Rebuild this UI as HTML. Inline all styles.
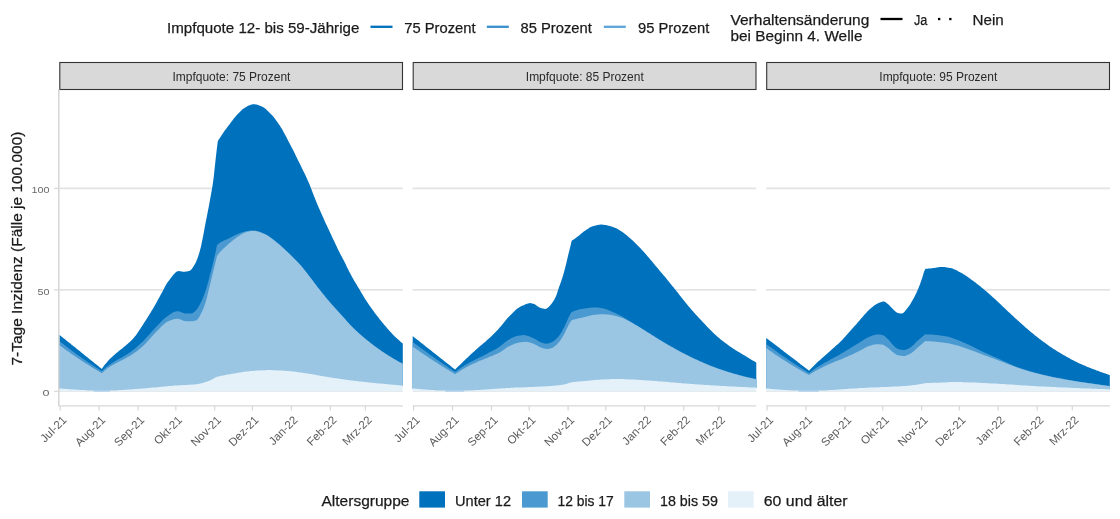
<!DOCTYPE html>
<html lang="de">
<head>
<meta charset="utf-8">
<title>7-Tage Inzidenz nach Impfquote</title>
<style>
html,body{margin:0;padding:0;background:#ffffff;}
body{width:1120px;height:519px;overflow:hidden;}
svg{display:block;}
text{font-family:"Liberation Sans",sans-serif;fill:#1a1a1a;}
.leg text{font-size:15.5px;stroke:#1a1a1a;stroke-width:0.25px;}
.strip{font-size:12px;fill:#2a2a2a;}
.xt{font-size:11.5px;fill:#5a5a5a;}
.yt{font-size:9.8px;fill:#6a6a6a;}
.ytitle{font-size:15.5px;fill:#1a1a1a;stroke:#1a1a1a;stroke-width:0.25px;}
</style>
</head>
<body>
<svg width="1120" height="519" viewBox="0 0 1120 519">
<rect width="1120" height="519" fill="#ffffff"/>
<g class="leg">
<text x="167" y="32.5" textLength="192.3" lengthAdjust="spacingAndGlyphs">Impfquote 12- bis 59-Jährige</text>
<line x1="370.5" x2="392.5" y1="26.8" y2="26.8" stroke="#0071bc" stroke-width="2.3"/>
<text x="404.3" y="32.5" textLength="71.3" lengthAdjust="spacingAndGlyphs">75 Prozent</text>
<line x1="486.8" x2="508.8" y1="26.8" y2="26.8" stroke="#3a8fcc" stroke-width="2.3"/>
<text x="520.5" y="32.5" textLength="71.3" lengthAdjust="spacingAndGlyphs">85 Prozent</text>
<line x1="603.8" x2="625.8" y1="26.8" y2="26.8" stroke="#5ba5d8" stroke-width="2.3"/>
<text x="638.0" y="32.5" textLength="71.3" lengthAdjust="spacingAndGlyphs">95 Prozent</text>
<text x="730.5" y="24.5" textLength="138.8" lengthAdjust="spacingAndGlyphs">Verhaltensänderung</text>
<text x="730.5" y="40.7" textLength="132" lengthAdjust="spacingAndGlyphs">bei Beginn 4. Welle</text>
<line x1="880.5" x2="902.5" y1="19" y2="19" stroke="#000" stroke-width="2.3"/>
<text x="913.9" y="25" textLength="13.4" lengthAdjust="spacingAndGlyphs">Ja</text>
<rect x="938.0" y="17.9" width="2.3" height="2.3" fill="#000"/>
<rect x="949.2" y="17.9" width="2.3" height="2.3" fill="#000"/>
<text x="972.5" y="25" textLength="31.3" lengthAdjust="spacingAndGlyphs">Nein</text>
</g>
<line x1="59.3" x2="402.8" y1="188.4" y2="188.4" stroke="#e3e3e3" stroke-width="1.6"/>
<line x1="59.3" x2="402.8" y1="289.9" y2="289.9" stroke="#e3e3e3" stroke-width="1.6"/>
<line x1="59.3" x2="402.8" y1="391.3" y2="391.3" stroke="#e3e3e3" stroke-width="1.6"/>
<path d="M59.3,334.8L60.3,335.6L61.3,336.4L62.3,337.2L63.3,338.0L64.3,338.8L65.3,339.6L66.3,340.4L67.3,341.2L68.3,342.0L69.3,342.8L70.3,343.6L71.3,344.4L72.3,345.2L73.3,346.0L74.3,346.8L75.3,347.6L76.3,348.4L77.3,349.2L78.3,350.0L79.3,350.8L80.3,351.6L81.3,352.5L82.3,353.3L83.3,354.1L84.3,354.9L85.3,355.7L86.3,356.5L87.3,357.3L88.3,358.1L89.3,358.9L90.3,359.7L91.3,360.5L92.3,361.3L93.3,362.1L94.3,362.9L95.3,363.7L96.3,364.5L97.3,365.3L98.3,366.1L99.3,366.9L100.3,367.7L101.3,368.5L101.8,368.9L101.8,368.9L102.8,367.5L103.8,366.1L104.8,364.8L105.8,363.6L106.8,362.4L107.8,361.2L108.8,360.1L109.8,359.1L110.8,358.1L111.8,357.2L112.8,356.2L113.8,355.3L114.8,354.5L115.8,353.6L116.8,352.7L117.8,351.9L118.8,351.1L119.8,350.3L120.8,349.5L121.8,348.7L122.8,347.9L123.8,347.1L124.8,346.3L125.8,345.5L126.8,344.6L127.8,343.7L128.8,342.8L129.8,341.9L130.8,341.0L131.8,340.0L132.8,338.9L133.8,337.8L134.8,336.6L135.8,335.4L136.8,334.0L137.8,332.6L138.8,331.1L139.8,329.6L140.8,328.0L141.8,326.4L142.8,324.9L143.8,323.3L144.8,321.8L145.8,320.2L146.8,318.7L147.8,317.1L148.8,315.5L149.8,313.8L150.8,312.2L151.8,310.5L152.8,308.9L153.8,307.2L154.8,305.5L155.8,303.7L156.8,301.9L157.8,300.1L158.8,298.3L159.8,296.4L160.8,294.6L161.8,292.8L162.8,290.9L163.8,288.9L164.8,287.0L165.8,285.2L166.8,283.6L167.8,282.1L168.8,280.8L169.8,279.4L170.8,278.0L171.8,276.7L172.8,275.4L173.8,274.2L174.8,273.2L175.8,272.3L176.8,271.6L177.8,271.2L178.8,271.1L179.8,271.2L180.8,271.3L181.8,271.5L182.8,271.7L183.8,271.7L184.8,271.7L185.8,271.6L186.8,271.5L187.8,271.3L188.8,271.1L189.8,270.8L190.8,270.1L191.8,269.0L192.8,267.6L193.8,266.0L194.8,264.3L195.8,262.4L196.8,260.1L197.8,257.4L198.8,254.4L199.8,251.1L200.8,247.2L201.8,242.6L202.8,237.8L203.8,232.6L204.8,227.1L205.8,221.8L206.8,216.7L207.8,211.6L208.8,206.4L209.8,201.1L210.8,195.6L211.8,189.9L212.8,183.9L213.8,176.6L214.8,167.1L215.8,157.7L216.8,149.3L217.8,141.2L217.8,141.2L217.8,141.2L218.8,139.6L219.8,138.0L220.8,136.5L221.8,134.9L222.8,133.5L223.8,132.0L224.8,130.6L225.8,129.2L226.8,127.9L227.8,126.5L228.8,125.2L229.8,123.9L230.8,122.6L231.8,121.3L232.8,119.9L233.8,118.6L234.8,117.4L235.8,116.2L236.8,115.0L237.8,114.0L238.8,113.0L239.8,111.9L240.8,110.9L241.8,110.0L242.8,109.1L243.8,108.4L244.8,107.7L245.8,107.2L246.8,106.6L247.8,106.1L248.8,105.6L249.8,105.2L250.8,104.8L251.8,104.5L252.8,104.3L253.8,104.2L254.8,104.2L255.8,104.4L256.8,104.6L257.8,104.9L258.8,105.3L259.8,105.7L260.8,106.1L261.8,106.6L262.8,107.0L263.8,107.6L264.8,108.3L265.8,109.1L266.8,110.0L267.8,110.9L268.8,111.9L269.8,112.9L270.8,113.9L271.8,115.0L272.8,116.1L273.8,117.3L274.8,118.6L275.8,119.9L276.8,121.3L277.8,122.7L278.8,124.2L279.8,125.6L280.8,127.2L281.8,128.8L282.8,130.6L283.8,132.4L284.8,134.2L285.8,136.1L286.8,138.0L287.8,139.9L288.8,141.9L289.8,143.8L290.8,145.7L291.8,147.7L292.8,149.6L293.8,151.6L294.8,153.6L295.8,155.7L296.8,157.7L297.8,159.7L298.8,161.8L299.8,163.8L300.8,165.8L301.8,167.9L302.8,169.9L303.8,171.9L304.8,174.0L305.8,176.1L306.8,178.2L307.8,180.4L308.8,182.7L309.8,185.1L310.8,187.7L311.8,190.3L312.8,192.9L313.8,195.5L314.8,198.0L315.8,200.5L316.8,203.0L317.8,205.4L318.8,207.7L319.8,210.0L320.8,212.3L321.8,214.6L322.8,216.8L323.8,219.0L324.8,221.2L325.8,223.4L326.8,225.5L327.8,227.7L328.8,229.8L329.8,232.0L330.8,234.1L331.8,236.3L332.8,238.4L333.8,240.5L334.8,242.6L335.8,244.7L336.8,246.8L337.8,248.9L338.8,250.9L339.8,252.9L340.8,254.9L341.8,256.8L342.8,258.7L343.8,260.6L344.8,262.6L345.8,264.6L346.8,266.7L347.8,268.7L348.8,270.7L349.8,272.7L350.8,274.6L351.8,276.4L352.8,278.2L353.8,280.0L354.8,281.7L355.8,283.3L356.8,285.0L357.8,286.7L358.8,288.3L359.8,290.0L360.8,291.7L361.8,293.4L362.8,295.1L363.8,296.7L364.8,298.4L365.8,299.9L366.8,301.4L367.8,303.0L368.8,304.4L369.8,305.9L370.8,307.3L371.8,308.7L372.8,310.1L373.8,311.5L374.8,312.9L375.8,314.2L376.8,315.5L377.8,316.8L378.8,318.1L379.8,319.4L380.8,320.6L381.8,321.9L382.8,323.1L383.8,324.3L384.8,325.5L385.8,326.6L386.8,327.8L387.8,328.9L388.8,330.1L389.8,331.2L390.8,332.3L391.8,333.3L392.8,334.4L393.8,335.4L394.8,336.4L395.8,337.4L396.8,338.3L397.8,339.2L398.8,340.1L399.8,341.0L400.8,341.9L401.8,342.7L402.8,343.5L402.8,386.1L402.3,386.1L401.3,386.0L400.3,385.9L399.3,385.8L398.3,385.7L397.3,385.6L396.3,385.5L395.3,385.4L394.3,385.3L393.3,385.3L392.3,385.2L391.3,385.1L390.3,385.0L389.3,384.9L388.3,384.8L387.3,384.7L386.3,384.6L385.3,384.5L384.3,384.4L383.3,384.3L382.3,384.2L381.3,384.1L380.3,384.0L379.3,384.0L378.3,383.9L377.3,383.8L376.3,383.7L375.3,383.6L374.3,383.5L373.3,383.4L372.3,383.3L371.3,383.2L370.3,383.1L369.3,383.0L368.3,382.9L367.3,382.7L366.3,382.6L365.3,382.5L364.3,382.4L363.3,382.3L362.3,382.2L361.3,382.1L360.3,382.0L359.3,381.9L358.3,381.8L357.3,381.6L356.3,381.5L355.3,381.4L354.3,381.3L353.3,381.2L352.3,381.0L351.3,380.9L350.3,380.8L349.3,380.7L348.3,380.5L347.3,380.4L346.3,380.3L345.3,380.1L344.3,380.0L343.3,379.8L342.3,379.7L341.3,379.6L340.3,379.4L339.3,379.3L338.3,379.1L337.3,379.0L336.3,378.8L335.3,378.7L334.3,378.5L333.3,378.4L332.3,378.2L331.3,378.0L330.3,377.9L329.3,377.7L328.3,377.6L327.3,377.4L326.3,377.2L325.3,377.1L324.3,376.9L323.3,376.7L322.3,376.6L321.3,376.4L320.3,376.2L319.3,376.0L318.3,375.8L317.3,375.7L316.3,375.5L315.3,375.3L314.3,375.1L313.3,375.0L312.3,374.8L311.3,374.6L310.3,374.5L309.3,374.3L308.3,374.1L307.3,374.0L306.3,373.8L305.3,373.7L304.3,373.5L303.3,373.4L302.3,373.2L301.3,373.1L300.3,372.9L299.3,372.8L298.3,372.7L297.3,372.5L296.3,372.4L295.3,372.3L294.3,372.1L293.3,372.0L292.3,371.9L291.3,371.8L290.3,371.7L289.3,371.6L288.3,371.6L287.3,371.5L286.3,371.4L285.3,371.3L284.3,371.3L283.3,371.2L282.3,371.1L281.3,371.1L280.3,371.0L279.3,370.9L278.3,370.9L277.3,370.8L276.3,370.8L275.3,370.7L274.3,370.7L273.3,370.7L272.3,370.6L271.3,370.6L270.3,370.6L269.3,370.6L268.3,370.6L267.3,370.6L266.3,370.6L265.3,370.7L264.3,370.7L263.3,370.7L262.3,370.8L261.3,370.8L260.3,370.9L259.3,371.0L258.3,371.0L257.3,371.1L256.3,371.1L255.3,371.2L254.3,371.3L253.3,371.4L252.3,371.4L251.3,371.5L250.3,371.6L249.3,371.7L248.3,371.8L247.3,371.9L246.3,372.0L245.3,372.1L244.3,372.3L243.3,372.4L242.3,372.6L241.3,372.7L240.3,372.9L239.3,373.0L238.3,373.2L237.3,373.4L236.3,373.6L235.3,373.7L234.3,373.9L233.3,374.1L232.3,374.3L231.3,374.4L230.3,374.6L229.3,374.8L228.3,375.0L227.3,375.1L226.3,375.3L225.3,375.5L224.3,375.7L223.3,375.9L222.3,376.1L221.3,376.3L220.3,376.5L219.3,376.8L218.3,377.0L217.3,377.3L216.3,377.6L215.3,378.1L214.3,378.6L213.3,379.2L212.3,379.7L211.3,380.3L210.3,380.8L209.3,381.2L208.3,381.6L207.3,381.9L206.3,382.3L205.3,382.6L204.3,383.0L203.3,383.3L202.3,383.6L201.3,383.8L200.3,384.1L199.3,384.3L198.3,384.4L197.3,384.5L196.3,384.7L195.3,384.8L194.3,384.9L193.3,384.9L192.3,385.0L191.3,385.1L190.3,385.2L189.3,385.2L188.3,385.3L187.3,385.4L186.3,385.4L185.3,385.5L184.3,385.5L183.3,385.6L182.3,385.6L181.3,385.7L180.3,385.7L179.3,385.8L178.3,385.8L177.3,385.9L176.3,386.0L175.3,386.0L174.3,386.1L173.3,386.2L172.3,386.3L171.3,386.4L170.3,386.5L169.3,386.5L168.3,386.6L167.3,386.7L166.3,386.8L165.3,386.9L164.3,387.0L163.3,387.1L162.3,387.2L161.3,387.3L160.3,387.4L159.3,387.5L158.3,387.6L157.3,387.7L156.3,387.8L155.3,387.9L154.3,388.0L153.3,388.0L152.3,388.1L151.3,388.2L150.3,388.3L149.3,388.4L148.3,388.5L147.3,388.6L146.3,388.7L145.3,388.8L144.3,388.9L143.3,389.0L142.3,389.0L141.3,389.1L140.3,389.2L139.3,389.3L138.3,389.3L137.3,389.4L136.3,389.5L135.3,389.5L134.3,389.6L133.3,389.7L132.3,389.7L131.3,389.8L130.3,389.9L129.3,390.0L128.3,390.0L127.3,390.1L126.3,390.2L125.3,390.2L124.3,390.3L123.3,390.4L122.3,390.4L121.3,390.5L120.3,390.6L119.3,390.6L118.3,390.7L117.3,390.8L116.3,390.8L115.3,390.9L114.3,390.9L113.3,391.0L112.3,391.0L111.3,391.1L110.3,391.1L109.3,391.2L108.3,391.2L107.3,391.2L106.3,391.2L105.3,391.3L104.3,391.3L103.3,391.3L102.3,391.3L101.3,391.3L100.3,391.3L99.3,391.3L98.3,391.3L97.3,391.2L96.3,391.2L95.3,391.2L94.3,391.2L93.3,391.1L92.3,391.1L91.3,391.0L90.3,391.0L89.3,390.9L88.3,390.9L87.3,390.8L86.3,390.8L85.3,390.7L84.3,390.6L83.3,390.6L82.3,390.5L81.3,390.5L80.3,390.4L79.3,390.4L78.3,390.3L77.3,390.2L76.3,390.2L75.3,390.1L74.3,390.1L73.3,390.0L72.3,389.9L71.3,389.9L70.3,389.8L69.3,389.7L68.3,389.6L67.3,389.6L66.3,389.5L65.3,389.4L64.3,389.3L63.3,389.2L62.3,389.2L61.3,389.1L60.3,389.0L59.3,388.9Z" fill="#0071bc"/>
<path d="M59.3,340.9L60.3,341.7L61.3,342.5L62.3,343.3L63.3,344.1L64.3,344.9L65.3,345.6L66.3,346.4L67.3,347.2L68.3,348.0L69.3,348.7L70.3,349.5L71.3,350.2L72.3,351.0L73.3,351.7L74.3,352.5L75.3,353.2L76.3,353.9L77.3,354.7L78.3,355.4L79.3,356.1L80.3,356.8L81.3,357.5L82.3,358.2L83.3,358.9L84.3,359.6L85.3,360.3L86.3,361.0L87.3,361.7L88.3,362.4L89.3,363.1L90.3,363.7L91.3,364.4L92.3,365.1L93.3,365.7L94.3,366.4L95.3,367.0L96.3,367.7L97.3,368.3L98.3,369.0L99.3,369.6L100.3,370.3L101.3,370.9L101.8,371.2L101.8,371.2L102.8,370.2L103.8,369.3L104.8,368.4L105.8,367.6L106.8,366.7L107.8,366.0L108.8,365.2L109.8,364.5L110.8,363.8L111.8,363.2L112.8,362.6L113.8,361.9L114.8,361.3L115.8,360.7L116.8,360.1L117.8,359.6L118.8,359.0L119.8,358.5L120.8,358.0L121.8,357.4L122.8,356.9L123.8,356.3L124.8,355.8L125.8,355.1L126.8,354.5L127.8,353.8L128.8,353.2L129.8,352.5L130.8,351.7L131.8,351.0L132.8,350.2L133.8,349.5L134.8,348.7L135.8,347.8L136.8,347.0L137.8,346.1L138.8,345.2L139.8,344.3L140.8,343.3L141.8,342.4L142.8,341.4L143.8,340.4L144.8,339.4L145.8,338.3L146.8,337.2L147.8,336.1L148.8,335.0L149.8,333.9L150.8,332.7L151.8,331.6L152.8,330.5L153.8,329.4L154.8,328.3L155.8,327.2L156.8,326.2L157.8,325.2L158.8,324.2L159.8,323.1L160.8,322.1L161.8,321.1L162.8,320.1L163.8,319.1L164.8,318.2L165.8,317.4L166.8,316.6L167.8,315.9L168.8,315.3L169.8,314.6L170.8,313.9L171.8,313.2L172.8,312.6L173.8,312.1L174.8,311.7L175.8,311.4L176.8,311.2L177.8,311.2L178.8,311.4L179.8,311.6L180.8,312.0L181.8,312.4L182.8,312.7L183.8,313.1L184.8,313.4L185.8,313.6L186.8,313.6L187.8,313.6L188.8,313.6L189.8,313.6L190.8,313.6L191.8,313.5L192.8,313.0L193.8,312.3L194.8,311.5L195.8,310.6L196.8,309.5L197.8,308.0L198.8,306.3L199.8,304.4L200.8,302.5L201.8,300.4L202.8,298.2L203.8,295.7L204.8,293.0L205.8,290.1L206.8,286.8L207.8,283.2L208.8,279.4L209.8,275.5L210.8,271.7L211.8,267.9L212.8,263.9L213.8,259.8L214.8,255.4L215.8,250.9L216.8,246.2L217.0,245.2L217.0,245.2L218.0,244.2L219.0,243.3L220.0,242.7L221.0,242.1L222.0,241.5L223.0,241.0L224.0,240.6L225.0,240.1L226.0,239.7L227.0,239.2L228.0,238.7L229.0,238.2L230.0,237.7L231.0,237.2L232.0,236.7L233.0,236.2L234.0,235.7L235.0,235.2L236.0,234.7L237.0,234.3L238.0,233.9L239.0,233.5L240.0,233.1L241.0,232.7L242.0,232.3L243.0,232.0L244.0,231.7L245.0,231.4L246.0,231.2L247.0,231.0L248.0,230.9L249.0,230.7L250.0,230.6L251.0,230.5L252.0,230.4L253.0,230.4L254.0,230.4L255.0,230.5L256.0,230.7L257.0,230.9L258.0,231.2L259.0,231.5L260.0,231.8L261.0,232.2L262.0,232.6L263.0,233.1L264.0,233.5L265.0,233.9L266.0,234.4L267.0,235.0L268.0,235.6L269.0,236.2L270.0,236.9L271.0,237.7L272.0,238.5L273.0,239.2L274.0,240.0L275.0,240.8L276.0,241.6L277.0,242.4L278.0,243.2L279.0,244.1L280.0,244.9L281.0,245.8L282.0,246.7L283.0,247.7L284.0,248.6L285.0,249.5L286.0,250.5L287.0,251.4L288.0,252.4L289.0,253.3L290.0,254.3L291.0,255.2L292.0,256.2L293.0,257.2L294.0,258.2L295.0,259.2L296.0,260.2L297.0,261.2L298.0,262.3L299.0,263.4L300.0,264.5L301.0,265.6L302.0,266.8L303.0,268.0L304.0,269.3L305.0,270.6L306.0,271.8L307.0,273.1L308.0,274.4L309.0,275.7L310.0,277.0L311.0,278.3L312.0,279.6L313.0,280.9L314.0,282.2L315.0,283.5L316.0,284.9L317.0,286.2L318.0,287.5L319.0,288.8L320.0,290.1L321.0,291.3L322.0,292.6L323.0,293.8L324.0,295.1L325.0,296.3L326.0,297.5L327.0,298.7L328.0,299.9L329.0,301.0L330.0,302.2L331.0,303.4L332.0,304.5L333.0,305.7L334.0,306.8L335.0,307.9L336.0,309.0L337.0,310.1L338.0,311.2L339.0,312.3L340.0,313.4L341.0,314.5L342.0,315.6L343.0,316.7L344.0,317.8L345.0,318.9L346.0,320.0L347.0,321.2L348.0,322.3L349.0,323.4L350.0,324.5L351.0,325.5L352.0,326.6L353.0,327.6L354.0,328.6L355.0,329.5L356.0,330.5L357.0,331.4L358.0,332.3L359.0,333.2L360.0,334.1L361.0,335.0L362.0,335.8L363.0,336.7L364.0,337.5L365.0,338.4L366.0,339.2L367.0,340.0L368.0,340.8L369.0,341.6L370.0,342.4L371.0,343.2L372.0,343.9L373.0,344.7L374.0,345.5L375.0,346.2L376.0,346.9L377.0,347.7L378.0,348.4L379.0,349.1L380.0,349.8L381.0,350.5L382.0,351.2L383.0,351.9L384.0,352.6L385.0,353.2L386.0,353.9L387.0,354.5L388.0,355.1L389.0,355.7L390.0,356.4L391.0,357.0L392.0,357.6L393.0,358.2L394.0,358.7L395.0,359.3L396.0,359.9L397.0,360.4L398.0,361.0L399.0,361.5L400.0,362.1L401.0,362.6L402.0,363.1L402.8,363.5L402.8,386.1L402.3,386.1L401.3,386.0L400.3,385.9L399.3,385.8L398.3,385.7L397.3,385.6L396.3,385.5L395.3,385.4L394.3,385.3L393.3,385.3L392.3,385.2L391.3,385.1L390.3,385.0L389.3,384.9L388.3,384.8L387.3,384.7L386.3,384.6L385.3,384.5L384.3,384.4L383.3,384.3L382.3,384.2L381.3,384.1L380.3,384.0L379.3,384.0L378.3,383.9L377.3,383.8L376.3,383.7L375.3,383.6L374.3,383.5L373.3,383.4L372.3,383.3L371.3,383.2L370.3,383.1L369.3,383.0L368.3,382.9L367.3,382.7L366.3,382.6L365.3,382.5L364.3,382.4L363.3,382.3L362.3,382.2L361.3,382.1L360.3,382.0L359.3,381.9L358.3,381.8L357.3,381.6L356.3,381.5L355.3,381.4L354.3,381.3L353.3,381.2L352.3,381.0L351.3,380.9L350.3,380.8L349.3,380.7L348.3,380.5L347.3,380.4L346.3,380.3L345.3,380.1L344.3,380.0L343.3,379.8L342.3,379.7L341.3,379.6L340.3,379.4L339.3,379.3L338.3,379.1L337.3,379.0L336.3,378.8L335.3,378.7L334.3,378.5L333.3,378.4L332.3,378.2L331.3,378.0L330.3,377.9L329.3,377.7L328.3,377.6L327.3,377.4L326.3,377.2L325.3,377.1L324.3,376.9L323.3,376.7L322.3,376.6L321.3,376.4L320.3,376.2L319.3,376.0L318.3,375.8L317.3,375.7L316.3,375.5L315.3,375.3L314.3,375.1L313.3,375.0L312.3,374.8L311.3,374.6L310.3,374.5L309.3,374.3L308.3,374.1L307.3,374.0L306.3,373.8L305.3,373.7L304.3,373.5L303.3,373.4L302.3,373.2L301.3,373.1L300.3,372.9L299.3,372.8L298.3,372.7L297.3,372.5L296.3,372.4L295.3,372.3L294.3,372.1L293.3,372.0L292.3,371.9L291.3,371.8L290.3,371.7L289.3,371.6L288.3,371.6L287.3,371.5L286.3,371.4L285.3,371.3L284.3,371.3L283.3,371.2L282.3,371.1L281.3,371.1L280.3,371.0L279.3,370.9L278.3,370.9L277.3,370.8L276.3,370.8L275.3,370.7L274.3,370.7L273.3,370.7L272.3,370.6L271.3,370.6L270.3,370.6L269.3,370.6L268.3,370.6L267.3,370.6L266.3,370.6L265.3,370.7L264.3,370.7L263.3,370.7L262.3,370.8L261.3,370.8L260.3,370.9L259.3,371.0L258.3,371.0L257.3,371.1L256.3,371.1L255.3,371.2L254.3,371.3L253.3,371.4L252.3,371.4L251.3,371.5L250.3,371.6L249.3,371.7L248.3,371.8L247.3,371.9L246.3,372.0L245.3,372.1L244.3,372.3L243.3,372.4L242.3,372.6L241.3,372.7L240.3,372.9L239.3,373.0L238.3,373.2L237.3,373.4L236.3,373.6L235.3,373.7L234.3,373.9L233.3,374.1L232.3,374.3L231.3,374.4L230.3,374.6L229.3,374.8L228.3,375.0L227.3,375.1L226.3,375.3L225.3,375.5L224.3,375.7L223.3,375.9L222.3,376.1L221.3,376.3L220.3,376.5L219.3,376.8L218.3,377.0L217.3,377.3L216.3,377.6L215.3,378.1L214.3,378.6L213.3,379.2L212.3,379.7L211.3,380.3L210.3,380.8L209.3,381.2L208.3,381.6L207.3,381.9L206.3,382.3L205.3,382.6L204.3,383.0L203.3,383.3L202.3,383.6L201.3,383.8L200.3,384.1L199.3,384.3L198.3,384.4L197.3,384.5L196.3,384.7L195.3,384.8L194.3,384.9L193.3,384.9L192.3,385.0L191.3,385.1L190.3,385.2L189.3,385.2L188.3,385.3L187.3,385.4L186.3,385.4L185.3,385.5L184.3,385.5L183.3,385.6L182.3,385.6L181.3,385.7L180.3,385.7L179.3,385.8L178.3,385.8L177.3,385.9L176.3,386.0L175.3,386.0L174.3,386.1L173.3,386.2L172.3,386.3L171.3,386.4L170.3,386.5L169.3,386.5L168.3,386.6L167.3,386.7L166.3,386.8L165.3,386.9L164.3,387.0L163.3,387.1L162.3,387.2L161.3,387.3L160.3,387.4L159.3,387.5L158.3,387.6L157.3,387.7L156.3,387.8L155.3,387.9L154.3,388.0L153.3,388.0L152.3,388.1L151.3,388.2L150.3,388.3L149.3,388.4L148.3,388.5L147.3,388.6L146.3,388.7L145.3,388.8L144.3,388.9L143.3,389.0L142.3,389.0L141.3,389.1L140.3,389.2L139.3,389.3L138.3,389.3L137.3,389.4L136.3,389.5L135.3,389.5L134.3,389.6L133.3,389.7L132.3,389.7L131.3,389.8L130.3,389.9L129.3,390.0L128.3,390.0L127.3,390.1L126.3,390.2L125.3,390.2L124.3,390.3L123.3,390.4L122.3,390.4L121.3,390.5L120.3,390.6L119.3,390.6L118.3,390.7L117.3,390.8L116.3,390.8L115.3,390.9L114.3,390.9L113.3,391.0L112.3,391.0L111.3,391.1L110.3,391.1L109.3,391.2L108.3,391.2L107.3,391.2L106.3,391.2L105.3,391.3L104.3,391.3L103.3,391.3L102.3,391.3L101.3,391.3L100.3,391.3L99.3,391.3L98.3,391.3L97.3,391.2L96.3,391.2L95.3,391.2L94.3,391.2L93.3,391.1L92.3,391.1L91.3,391.0L90.3,391.0L89.3,390.9L88.3,390.9L87.3,390.8L86.3,390.8L85.3,390.7L84.3,390.6L83.3,390.6L82.3,390.5L81.3,390.5L80.3,390.4L79.3,390.4L78.3,390.3L77.3,390.2L76.3,390.2L75.3,390.1L74.3,390.1L73.3,390.0L72.3,389.9L71.3,389.9L70.3,389.8L69.3,389.7L68.3,389.6L67.3,389.6L66.3,389.5L65.3,389.4L64.3,389.3L63.3,389.2L62.3,389.2L61.3,389.1L60.3,389.0L59.3,388.9Z" fill="#4a9ad1"/>
<path d="M59.3,345.1L60.3,345.8L61.3,346.6L62.3,347.3L63.3,348.0L64.3,348.7L65.3,349.5L66.3,350.2L67.3,350.9L68.3,351.6L69.3,352.3L70.3,353.0L71.3,353.7L72.3,354.4L73.3,355.1L74.3,355.8L75.3,356.5L76.3,357.1L77.3,357.8L78.3,358.5L79.3,359.1L80.3,359.8L81.3,360.5L82.3,361.1L83.3,361.8L84.3,362.4L85.3,363.1L86.3,363.7L87.3,364.3L88.3,365.0L89.3,365.6L90.3,366.2L91.3,366.9L92.3,367.5L93.3,368.1L94.3,368.7L95.3,369.3L96.3,369.9L97.3,370.5L98.3,371.1L99.3,371.7L100.3,372.3L101.3,372.9L101.8,373.2L101.8,373.2L102.8,372.3L103.8,371.4L104.8,370.5L105.8,369.7L106.8,368.9L107.8,368.1L108.8,367.4L109.8,366.8L110.8,366.2L111.8,365.6L112.8,365.0L113.8,364.4L114.8,363.8L115.8,363.3L116.8,362.7L117.8,362.2L118.8,361.7L119.8,361.2L120.8,360.7L121.8,360.2L122.8,359.7L123.8,359.2L124.8,358.7L125.8,358.2L126.8,357.6L127.8,357.1L128.8,356.5L129.8,355.9L130.8,355.3L131.8,354.7L132.8,354.0L133.8,353.3L134.8,352.6L135.8,351.9L136.8,351.2L137.8,350.4L138.8,349.6L139.8,348.8L140.8,348.0L141.8,347.1L142.8,346.2L143.8,345.3L144.8,344.3L145.8,343.2L146.8,342.2L147.8,341.1L148.8,340.0L149.8,338.8L150.8,337.7L151.8,336.5L152.8,335.4L153.8,334.3L154.8,333.2L155.8,332.2L156.8,331.2L157.8,330.2L158.8,329.2L159.8,328.2L160.8,327.1L161.8,326.1L162.8,325.2L163.8,324.3L164.8,323.4L165.8,322.7L166.8,322.1L167.8,321.6L168.8,321.1L169.8,320.7L170.8,320.3L171.8,319.9L172.8,319.6L173.8,319.3L174.8,319.0L175.8,318.9L176.8,318.8L177.8,318.8L178.8,319.0L179.8,319.3L180.8,319.6L181.8,320.0L182.8,320.4L183.8,320.8L184.8,321.1L185.8,321.2L186.8,321.3L187.8,321.3L188.8,321.3L189.8,321.3L190.8,321.3L191.8,321.3L192.8,321.3L193.8,321.1L194.8,320.8L195.8,320.4L196.8,319.9L197.8,319.1L198.8,317.7L199.8,316.0L200.8,314.1L201.8,312.1L202.8,310.0L203.8,307.5L204.8,304.7L205.8,301.6L206.8,297.9L207.8,293.7L208.8,289.5L209.8,285.4L210.8,281.4L211.8,277.3L212.8,273.2L213.8,269.1L214.8,265.0L215.8,260.9L216.8,256.8L217.0,256.0L217.0,256.0L218.0,254.5L219.0,253.2L220.0,252.0L221.0,251.0L222.0,250.0L223.0,249.1L224.0,248.1L225.0,247.2L226.0,246.3L227.0,245.4L228.0,244.5L229.0,243.6L230.0,242.8L231.0,241.9L232.0,241.1L233.0,240.3L234.0,239.5L235.0,238.7L236.0,238.0L237.0,237.2L238.0,236.5L239.0,235.9L240.0,235.3L241.0,234.7L242.0,234.1L243.0,233.6L244.0,233.1L245.0,232.6L246.0,232.2L247.0,231.8L248.0,231.6L249.0,231.4L250.0,231.2L251.0,231.1L252.0,231.0L253.0,230.9L254.0,230.9L255.0,231.0L256.0,231.1L257.0,231.4L258.0,231.6L259.0,231.9L260.0,232.3L261.0,232.7L262.0,233.1L263.0,233.5L264.0,233.9L265.0,234.3L266.0,234.8L267.0,235.3L268.0,235.9L269.0,236.6L270.0,237.3L271.0,238.0L272.0,238.8L273.0,239.6L274.0,240.3L275.0,241.1L276.0,241.9L277.0,242.7L278.0,243.5L279.0,244.3L280.0,245.2L281.0,246.1L282.0,247.0L283.0,247.9L284.0,248.8L285.0,249.8L286.0,250.7L287.0,251.6L288.0,252.6L289.0,253.5L290.0,254.5L291.0,255.4L292.0,256.4L293.0,257.4L294.0,258.4L295.0,259.4L296.0,260.4L297.0,261.4L298.0,262.5L299.0,263.6L300.0,264.7L301.0,265.8L302.0,267.0L303.0,268.2L304.0,269.5L305.0,270.8L306.0,272.0L307.0,273.3L308.0,274.6L309.0,275.9L310.0,277.2L311.0,278.5L312.0,279.8L313.0,281.1L314.0,282.4L315.0,283.7L316.0,285.1L317.0,286.4L318.0,287.7L319.0,289.0L320.0,290.3L321.0,291.5L322.0,292.8L323.0,294.0L324.0,295.3L325.0,296.5L326.0,297.7L327.0,298.9L328.0,300.1L329.0,301.2L330.0,302.4L331.0,303.6L332.0,304.7L333.0,305.9L334.0,307.0L335.0,308.1L336.0,309.2L337.0,310.3L338.0,311.4L339.0,312.5L340.0,313.6L341.0,314.7L342.0,315.8L343.0,316.9L344.0,318.0L345.0,319.1L346.0,320.2L347.0,321.4L348.0,322.5L349.0,323.6L350.0,324.7L351.0,325.7L352.0,326.8L353.0,327.8L354.0,328.8L355.0,329.7L356.0,330.7L357.0,331.6L358.0,332.5L359.0,333.4L360.0,334.3L361.0,335.2L362.0,336.0L363.0,336.9L364.0,337.7L365.0,338.6L366.0,339.4L367.0,340.2L368.0,341.0L369.0,341.8L370.0,342.6L371.0,343.4L372.0,344.1L373.0,344.9L374.0,345.7L375.0,346.4L376.0,347.1L377.0,347.9L378.0,348.6L379.0,349.3L380.0,350.0L381.0,350.7L382.0,351.4L383.0,352.1L384.0,352.8L385.0,353.4L386.0,354.1L387.0,354.7L388.0,355.4L389.0,356.0L390.0,356.6L391.0,357.2L392.0,357.8L393.0,358.5L394.0,359.1L395.0,359.6L396.0,360.2L397.0,360.8L398.0,361.4L399.0,361.9L400.0,362.5L401.0,363.0L402.0,363.6L402.8,364.0L402.8,386.1L402.3,386.1L401.3,386.0L400.3,385.9L399.3,385.8L398.3,385.7L397.3,385.6L396.3,385.5L395.3,385.4L394.3,385.3L393.3,385.3L392.3,385.2L391.3,385.1L390.3,385.0L389.3,384.9L388.3,384.8L387.3,384.7L386.3,384.6L385.3,384.5L384.3,384.4L383.3,384.3L382.3,384.2L381.3,384.1L380.3,384.0L379.3,384.0L378.3,383.9L377.3,383.8L376.3,383.7L375.3,383.6L374.3,383.5L373.3,383.4L372.3,383.3L371.3,383.2L370.3,383.1L369.3,383.0L368.3,382.9L367.3,382.7L366.3,382.6L365.3,382.5L364.3,382.4L363.3,382.3L362.3,382.2L361.3,382.1L360.3,382.0L359.3,381.9L358.3,381.8L357.3,381.6L356.3,381.5L355.3,381.4L354.3,381.3L353.3,381.2L352.3,381.0L351.3,380.9L350.3,380.8L349.3,380.7L348.3,380.5L347.3,380.4L346.3,380.3L345.3,380.1L344.3,380.0L343.3,379.8L342.3,379.7L341.3,379.6L340.3,379.4L339.3,379.3L338.3,379.1L337.3,379.0L336.3,378.8L335.3,378.7L334.3,378.5L333.3,378.4L332.3,378.2L331.3,378.0L330.3,377.9L329.3,377.7L328.3,377.6L327.3,377.4L326.3,377.2L325.3,377.1L324.3,376.9L323.3,376.7L322.3,376.6L321.3,376.4L320.3,376.2L319.3,376.0L318.3,375.8L317.3,375.7L316.3,375.5L315.3,375.3L314.3,375.1L313.3,375.0L312.3,374.8L311.3,374.6L310.3,374.5L309.3,374.3L308.3,374.1L307.3,374.0L306.3,373.8L305.3,373.7L304.3,373.5L303.3,373.4L302.3,373.2L301.3,373.1L300.3,372.9L299.3,372.8L298.3,372.7L297.3,372.5L296.3,372.4L295.3,372.3L294.3,372.1L293.3,372.0L292.3,371.9L291.3,371.8L290.3,371.7L289.3,371.6L288.3,371.6L287.3,371.5L286.3,371.4L285.3,371.3L284.3,371.3L283.3,371.2L282.3,371.1L281.3,371.1L280.3,371.0L279.3,370.9L278.3,370.9L277.3,370.8L276.3,370.8L275.3,370.7L274.3,370.7L273.3,370.7L272.3,370.6L271.3,370.6L270.3,370.6L269.3,370.6L268.3,370.6L267.3,370.6L266.3,370.6L265.3,370.7L264.3,370.7L263.3,370.7L262.3,370.8L261.3,370.8L260.3,370.9L259.3,371.0L258.3,371.0L257.3,371.1L256.3,371.1L255.3,371.2L254.3,371.3L253.3,371.4L252.3,371.4L251.3,371.5L250.3,371.6L249.3,371.7L248.3,371.8L247.3,371.9L246.3,372.0L245.3,372.1L244.3,372.3L243.3,372.4L242.3,372.6L241.3,372.7L240.3,372.9L239.3,373.0L238.3,373.2L237.3,373.4L236.3,373.6L235.3,373.7L234.3,373.9L233.3,374.1L232.3,374.3L231.3,374.4L230.3,374.6L229.3,374.8L228.3,375.0L227.3,375.1L226.3,375.3L225.3,375.5L224.3,375.7L223.3,375.9L222.3,376.1L221.3,376.3L220.3,376.5L219.3,376.8L218.3,377.0L217.3,377.3L216.3,377.6L215.3,378.1L214.3,378.6L213.3,379.2L212.3,379.7L211.3,380.3L210.3,380.8L209.3,381.2L208.3,381.6L207.3,381.9L206.3,382.3L205.3,382.6L204.3,383.0L203.3,383.3L202.3,383.6L201.3,383.8L200.3,384.1L199.3,384.3L198.3,384.4L197.3,384.5L196.3,384.7L195.3,384.8L194.3,384.9L193.3,384.9L192.3,385.0L191.3,385.1L190.3,385.2L189.3,385.2L188.3,385.3L187.3,385.4L186.3,385.4L185.3,385.5L184.3,385.5L183.3,385.6L182.3,385.6L181.3,385.7L180.3,385.7L179.3,385.8L178.3,385.8L177.3,385.9L176.3,386.0L175.3,386.0L174.3,386.1L173.3,386.2L172.3,386.3L171.3,386.4L170.3,386.5L169.3,386.5L168.3,386.6L167.3,386.7L166.3,386.8L165.3,386.9L164.3,387.0L163.3,387.1L162.3,387.2L161.3,387.3L160.3,387.4L159.3,387.5L158.3,387.6L157.3,387.7L156.3,387.8L155.3,387.9L154.3,388.0L153.3,388.0L152.3,388.1L151.3,388.2L150.3,388.3L149.3,388.4L148.3,388.5L147.3,388.6L146.3,388.7L145.3,388.8L144.3,388.9L143.3,389.0L142.3,389.0L141.3,389.1L140.3,389.2L139.3,389.3L138.3,389.3L137.3,389.4L136.3,389.5L135.3,389.5L134.3,389.6L133.3,389.7L132.3,389.7L131.3,389.8L130.3,389.9L129.3,390.0L128.3,390.0L127.3,390.1L126.3,390.2L125.3,390.2L124.3,390.3L123.3,390.4L122.3,390.4L121.3,390.5L120.3,390.6L119.3,390.6L118.3,390.7L117.3,390.8L116.3,390.8L115.3,390.9L114.3,390.9L113.3,391.0L112.3,391.0L111.3,391.1L110.3,391.1L109.3,391.2L108.3,391.2L107.3,391.2L106.3,391.2L105.3,391.3L104.3,391.3L103.3,391.3L102.3,391.3L101.3,391.3L100.3,391.3L99.3,391.3L98.3,391.3L97.3,391.2L96.3,391.2L95.3,391.2L94.3,391.2L93.3,391.1L92.3,391.1L91.3,391.0L90.3,391.0L89.3,390.9L88.3,390.9L87.3,390.8L86.3,390.8L85.3,390.7L84.3,390.6L83.3,390.6L82.3,390.5L81.3,390.5L80.3,390.4L79.3,390.4L78.3,390.3L77.3,390.2L76.3,390.2L75.3,390.1L74.3,390.1L73.3,390.0L72.3,389.9L71.3,389.9L70.3,389.8L69.3,389.7L68.3,389.6L67.3,389.6L66.3,389.5L65.3,389.4L64.3,389.3L63.3,389.2L62.3,389.2L61.3,389.1L60.3,389.0L59.3,388.9Z" fill="#9ac6e4"/>
<path d="M59.3,388.4L60.3,388.5L61.3,388.6L62.3,388.7L63.3,388.7L64.3,388.8L65.3,388.9L66.3,389.0L67.3,389.1L68.3,389.1L69.3,389.2L70.3,389.3L71.3,389.4L72.3,389.4L73.3,389.5L74.3,389.6L75.3,389.6L76.3,389.7L77.3,389.7L78.3,389.8L79.3,389.9L80.3,389.9L81.3,390.0L82.3,390.0L83.3,390.1L84.3,390.1L85.3,390.2L86.3,390.3L87.3,390.3L88.3,390.4L89.3,390.4L90.3,390.5L91.3,390.5L92.3,390.6L93.3,390.6L94.3,390.7L95.3,390.7L96.3,390.7L97.3,390.7L98.3,390.8L99.3,390.8L100.3,390.8L101.3,390.8L102.3,390.8L103.3,390.8L104.3,390.8L105.3,390.8L106.3,390.7L107.3,390.7L108.3,390.7L109.3,390.7L110.3,390.6L111.3,390.6L112.3,390.5L113.3,390.5L114.3,390.4L115.3,390.4L116.3,390.3L117.3,390.3L118.3,390.2L119.3,390.1L120.3,390.1L121.3,390.0L122.3,389.9L123.3,389.9L124.3,389.8L125.3,389.7L126.3,389.7L127.3,389.6L128.3,389.5L129.3,389.5L130.3,389.4L131.3,389.3L132.3,389.2L133.3,389.2L134.3,389.1L135.3,389.0L136.3,389.0L137.3,388.9L138.3,388.8L139.3,388.8L140.3,388.7L141.3,388.6L142.3,388.5L143.3,388.5L144.3,388.4L145.3,388.3L146.3,388.2L147.3,388.1L148.3,388.0L149.3,387.9L150.3,387.8L151.3,387.7L152.3,387.6L153.3,387.5L154.3,387.5L155.3,387.4L156.3,387.3L157.3,387.2L158.3,387.1L159.3,387.0L160.3,386.9L161.3,386.8L162.3,386.7L163.3,386.6L164.3,386.5L165.3,386.4L166.3,386.3L167.3,386.2L168.3,386.1L169.3,386.0L170.3,386.0L171.3,385.9L172.3,385.8L173.3,385.7L174.3,385.6L175.3,385.5L176.3,385.5L177.3,385.4L178.3,385.3L179.3,385.3L180.3,385.2L181.3,385.2L182.3,385.1L183.3,385.1L184.3,385.0L185.3,385.0L186.3,384.9L187.3,384.9L188.3,384.8L189.3,384.7L190.3,384.7L191.3,384.6L192.3,384.5L193.3,384.4L194.3,384.4L195.3,384.3L196.3,384.2L197.3,384.0L198.3,383.9L199.3,383.8L200.3,383.6L201.3,383.3L202.3,383.1L203.3,382.8L204.3,382.5L205.3,382.1L206.3,381.8L207.3,381.4L208.3,381.1L209.3,380.7L210.3,380.3L211.3,379.8L212.3,379.2L213.3,378.7L214.3,378.1L215.3,377.6L216.3,377.1L217.3,376.8L218.3,376.5L219.3,376.3L220.3,376.0L221.3,375.8L222.3,375.6L223.3,375.4L224.3,375.2L225.3,375.0L226.3,374.8L227.3,374.6L228.3,374.5L229.3,374.3L230.3,374.1L231.3,373.9L232.3,373.8L233.3,373.6L234.3,373.4L235.3,373.2L236.3,373.1L237.3,372.9L238.3,372.7L239.3,372.5L240.3,372.4L241.3,372.2L242.3,372.1L243.3,371.9L244.3,371.8L245.3,371.6L246.3,371.5L247.3,371.4L248.3,371.3L249.3,371.2L250.3,371.1L251.3,371.0L252.3,370.9L253.3,370.9L254.3,370.8L255.3,370.7L256.3,370.6L257.3,370.6L258.3,370.5L259.3,370.5L260.3,370.4L261.3,370.3L262.3,370.3L263.3,370.2L264.3,370.2L265.3,370.2L266.3,370.1L267.3,370.1L268.3,370.1L269.3,370.1L270.3,370.1L271.3,370.1L272.3,370.1L273.3,370.2L274.3,370.2L275.3,370.2L276.3,370.3L277.3,370.3L278.3,370.4L279.3,370.4L280.3,370.5L281.3,370.6L282.3,370.6L283.3,370.7L284.3,370.8L285.3,370.8L286.3,370.9L287.3,371.0L288.3,371.1L289.3,371.1L290.3,371.2L291.3,371.3L292.3,371.4L293.3,371.5L294.3,371.6L295.3,371.8L296.3,371.9L297.3,372.0L298.3,372.2L299.3,372.3L300.3,372.4L301.3,372.6L302.3,372.7L303.3,372.9L304.3,373.0L305.3,373.2L306.3,373.3L307.3,373.5L308.3,373.6L309.3,373.8L310.3,374.0L311.3,374.1L312.3,374.3L313.3,374.5L314.3,374.6L315.3,374.8L316.3,375.0L317.3,375.2L318.3,375.3L319.3,375.5L320.3,375.7L321.3,375.9L322.3,376.1L323.3,376.2L324.3,376.4L325.3,376.6L326.3,376.7L327.3,376.9L328.3,377.1L329.3,377.2L330.3,377.4L331.3,377.5L332.3,377.7L333.3,377.9L334.3,378.0L335.3,378.2L336.3,378.3L337.3,378.5L338.3,378.6L339.3,378.8L340.3,378.9L341.3,379.1L342.3,379.2L343.3,379.3L344.3,379.5L345.3,379.6L346.3,379.8L347.3,379.9L348.3,380.0L349.3,380.2L350.3,380.3L351.3,380.4L352.3,380.5L353.3,380.7L354.3,380.8L355.3,380.9L356.3,381.0L357.3,381.1L358.3,381.3L359.3,381.4L360.3,381.5L361.3,381.6L362.3,381.7L363.3,381.8L364.3,381.9L365.3,382.0L366.3,382.1L367.3,382.2L368.3,382.4L369.3,382.5L370.3,382.6L371.3,382.7L372.3,382.8L373.3,382.9L374.3,383.0L375.3,383.1L376.3,383.2L377.3,383.3L378.3,383.4L379.3,383.5L380.3,383.5L381.3,383.6L382.3,383.7L383.3,383.8L384.3,383.9L385.3,384.0L386.3,384.1L387.3,384.2L388.3,384.3L389.3,384.4L390.3,384.5L391.3,384.6L392.3,384.7L393.3,384.8L394.3,384.8L395.3,384.9L396.3,385.0L397.3,385.1L398.3,385.2L399.3,385.3L400.3,385.4L401.3,385.5L402.3,385.6L402.8,385.6L402.8,391.4L59.3,391.4Z" fill="#e5f1f9"/>
<rect x="59.8" y="62.5" width="342.7" height="27.0" fill="#d9d9d9" stroke="#333333" stroke-width="1.1"/>
<text class="strip" x="231.4" y="81" text-anchor="middle" textLength="118" lengthAdjust="spacingAndGlyphs">Impfquote: 75 Prozent</text>
<line x1="59.3" x2="402.8" y1="405.9" y2="405.9" stroke="#d7d7d7" stroke-width="1.4"/>
<line x1="60.2" x2="60.2" y1="405.9" y2="410.5" stroke="#d7d7d7" stroke-width="1.2"/>
<text class="xt" text-anchor="end" transform="translate(67.2,420.8) rotate(-45)">Jul-21</text>
<line x1="99.1" x2="99.1" y1="405.9" y2="410.5" stroke="#d7d7d7" stroke-width="1.2"/>
<text class="xt" text-anchor="end" transform="translate(106.1,420.8) rotate(-45)">Aug-21</text>
<line x1="138.1" x2="138.1" y1="405.9" y2="410.5" stroke="#d7d7d7" stroke-width="1.2"/>
<text class="xt" text-anchor="end" transform="translate(145.1,420.8) rotate(-45)">Sep-21</text>
<line x1="175.8" x2="175.8" y1="405.9" y2="410.5" stroke="#d7d7d7" stroke-width="1.2"/>
<text class="xt" text-anchor="end" transform="translate(182.8,420.8) rotate(-45)">Okt-21</text>
<line x1="214.7" x2="214.7" y1="405.9" y2="410.5" stroke="#d7d7d7" stroke-width="1.2"/>
<text class="xt" text-anchor="end" transform="translate(221.7,420.8) rotate(-45)">Nov-21</text>
<line x1="252.4" x2="252.4" y1="405.9" y2="410.5" stroke="#d7d7d7" stroke-width="1.2"/>
<text class="xt" text-anchor="end" transform="translate(259.4,420.8) rotate(-45)">Dez-21</text>
<line x1="291.3" x2="291.3" y1="405.9" y2="410.5" stroke="#d7d7d7" stroke-width="1.2"/>
<text class="xt" text-anchor="end" transform="translate(298.3,420.8) rotate(-45)">Jan-22</text>
<line x1="330.3" x2="330.3" y1="405.9" y2="410.5" stroke="#d7d7d7" stroke-width="1.2"/>
<text class="xt" text-anchor="end" transform="translate(337.3,420.8) rotate(-45)">Feb-22</text>
<line x1="365.4" x2="365.4" y1="405.9" y2="410.5" stroke="#d7d7d7" stroke-width="1.2"/>
<text class="xt" text-anchor="end" transform="translate(372.4,420.8) rotate(-45)">Mrz-22</text>
<line x1="412.7" x2="756.3" y1="188.4" y2="188.4" stroke="#e3e3e3" stroke-width="1.6"/>
<line x1="412.7" x2="756.3" y1="289.9" y2="289.9" stroke="#e3e3e3" stroke-width="1.6"/>
<line x1="412.7" x2="756.3" y1="391.3" y2="391.3" stroke="#e3e3e3" stroke-width="1.6"/>
<path d="M412.7,336.1L413.7,336.9L414.7,337.7L415.7,338.5L416.7,339.3L417.7,340.1L418.7,340.8L419.7,341.6L420.7,342.4L421.7,343.2L422.7,344.0L423.7,344.8L424.7,345.6L425.7,346.4L426.7,347.2L427.7,348.0L428.7,348.7L429.7,349.5L430.7,350.3L431.7,351.1L432.7,351.9L433.7,352.7L434.7,353.5L435.7,354.3L436.7,355.1L437.7,355.9L438.7,356.6L439.7,357.4L440.7,358.2L441.7,359.0L442.7,359.8L443.7,360.6L444.7,361.4L445.7,362.2L446.7,363.0L447.7,363.8L448.7,364.5L449.7,365.3L450.7,366.1L451.7,366.9L452.7,367.7L453.7,368.5L454.7,369.3L455.1,369.6L455.1,369.6L456.1,368.6L457.1,367.6L458.1,366.6L459.1,365.6L460.1,364.7L461.1,363.7L462.1,362.7L463.1,361.7L464.1,360.8L465.1,359.8L466.1,358.8L467.1,357.9L468.1,356.9L469.1,356.0L470.1,355.1L471.1,354.1L472.1,353.2L473.1,352.3L474.1,351.4L475.1,350.5L476.1,349.6L477.1,348.7L478.1,347.8L479.1,347.0L480.1,346.1L481.1,345.2L482.1,344.4L483.1,343.5L484.1,342.7L485.1,341.9L486.1,341.0L487.1,340.1L488.1,339.2L489.1,338.3L490.1,337.4L491.1,336.4L492.1,335.5L493.1,334.5L494.1,333.5L495.1,332.5L496.1,331.5L497.1,330.4L498.1,329.4L499.1,328.3L500.1,327.1L501.1,325.9L502.1,324.7L503.1,323.4L504.1,322.2L505.1,321.0L506.1,319.8L507.1,318.6L508.1,317.5L509.1,316.4L510.1,315.4L511.1,314.4L512.1,313.4L513.1,312.4L514.1,311.4L515.1,310.5L516.1,309.6L517.1,308.8L518.1,308.1L519.1,307.4L520.1,306.8L521.1,306.3L522.1,305.8L523.1,305.4L524.1,305.0L525.1,304.5L526.1,304.1L527.1,303.7L528.1,303.4L529.1,303.2L530.1,303.1L531.1,303.2L532.1,303.4L533.1,303.7L534.1,304.1L535.1,304.6L536.1,305.3L537.1,306.1L538.1,306.8L539.1,307.2L540.1,307.7L541.1,308.0L542.1,308.4L543.1,308.6L544.1,308.8L545.1,308.9L546.1,308.8L547.1,308.2L548.1,307.4L549.1,306.4L550.1,305.4L551.1,304.3L552.1,303.0L553.1,301.6L554.1,299.9L555.1,298.0L556.1,295.9L557.1,293.2L558.1,290.0L559.1,287.0L560.1,284.2L561.1,281.4L562.1,278.4L563.1,275.3L564.1,271.8L565.1,268.0L566.1,263.9L567.1,259.7L568.1,255.5L569.1,251.5L570.1,247.4L571.1,243.3L571.7,240.8L571.7,240.8L572.7,240.1L573.7,239.4L574.7,238.7L575.7,238.0L576.7,237.3L577.7,236.5L578.7,235.7L579.7,234.9L580.7,234.0L581.7,233.2L582.7,232.4L583.7,231.6L584.7,230.9L585.7,230.2L586.7,229.5L587.7,228.9L588.7,228.2L589.7,227.6L590.7,227.1L591.7,226.7L592.7,226.3L593.7,226.0L594.7,225.7L595.7,225.5L596.7,225.2L597.7,225.0L598.7,224.8L599.7,224.7L600.7,224.6L601.7,224.6L602.7,224.7L603.7,224.8L604.7,224.9L605.7,225.1L606.7,225.3L607.7,225.5L608.7,225.7L609.7,225.9L610.7,226.2L611.7,226.5L612.7,226.9L613.7,227.3L614.7,227.7L615.7,228.1L616.7,228.6L617.7,229.1L618.7,229.7L619.7,230.3L620.7,230.9L621.7,231.5L622.7,232.2L623.7,232.9L624.7,233.7L625.7,234.5L626.7,235.3L627.7,236.2L628.7,237.0L629.7,237.9L630.7,238.8L631.7,239.7L632.7,240.6L633.7,241.6L634.7,242.5L635.7,243.5L636.7,244.5L637.7,245.5L638.7,246.5L639.7,247.5L640.7,248.6L641.7,249.7L642.7,250.7L643.7,251.8L644.7,252.9L645.7,254.1L646.7,255.2L647.7,256.4L648.7,257.6L649.7,258.7L650.7,259.9L651.7,261.1L652.7,262.3L653.7,263.5L654.7,264.7L655.7,265.9L656.7,267.1L657.7,268.3L658.7,269.5L659.7,270.7L660.7,271.9L661.7,273.0L662.7,274.2L663.7,275.4L664.7,276.6L665.7,277.8L666.7,279.1L667.7,280.3L668.7,281.5L669.7,282.7L670.7,283.9L671.7,285.2L672.7,286.4L673.7,287.6L674.7,288.9L675.7,290.1L676.7,291.4L677.7,292.6L678.7,293.9L679.7,295.2L680.7,296.4L681.7,297.7L682.7,298.9L683.7,300.2L684.7,301.4L685.7,302.7L686.7,303.9L687.7,305.2L688.7,306.4L689.7,307.6L690.7,308.8L691.7,310.0L692.7,311.1L693.7,312.2L694.7,313.3L695.7,314.4L696.7,315.5L697.7,316.6L698.7,317.7L699.7,318.7L700.7,319.8L701.7,320.8L702.7,321.9L703.7,323.0L704.7,324.1L705.7,325.1L706.7,326.2L707.7,327.2L708.7,328.3L709.7,329.3L710.7,330.3L711.7,331.3L712.7,332.3L713.7,333.3L714.7,334.2L715.7,335.1L716.7,336.0L717.7,336.9L718.7,337.8L719.7,338.6L720.7,339.4L721.7,340.2L722.7,341.0L723.7,341.8L724.7,342.6L725.7,343.3L726.7,344.1L727.7,344.8L728.7,345.5L729.7,346.2L730.7,346.9L731.7,347.6L732.7,348.3L733.7,348.9L734.7,349.6L735.7,350.2L736.7,350.8L737.7,351.4L738.7,352.0L739.7,352.6L740.7,353.2L741.7,353.8L742.7,354.4L743.7,355.0L744.7,355.6L745.7,356.2L746.7,356.8L747.7,357.4L748.7,358.0L749.7,358.7L750.7,359.3L751.7,359.9L752.7,360.5L753.7,361.1L754.7,361.6L755.7,362.2L756.3,362.6L756.3,388.1L755.7,388.1L754.7,388.0L753.7,388.0L752.7,388.0L751.7,387.9L750.7,387.9L749.7,387.8L748.7,387.8L747.7,387.7L746.7,387.7L745.7,387.6L744.7,387.6L743.7,387.6L742.7,387.5L741.7,387.5L740.7,387.4L739.7,387.4L738.7,387.3L737.7,387.3L736.7,387.2L735.7,387.2L734.7,387.1L733.7,387.1L732.7,387.0L731.7,387.0L730.7,386.9L729.7,386.9L728.7,386.8L727.7,386.7L726.7,386.7L725.7,386.6L724.7,386.6L723.7,386.5L722.7,386.5L721.7,386.4L720.7,386.4L719.7,386.3L718.7,386.2L717.7,386.2L716.7,386.1L715.7,386.1L714.7,386.0L713.7,386.0L712.7,385.9L711.7,385.8L710.7,385.8L709.7,385.7L708.7,385.6L707.7,385.6L706.7,385.5L705.7,385.5L704.7,385.4L703.7,385.3L702.7,385.3L701.7,385.2L700.7,385.1L699.7,385.0L698.7,385.0L697.7,384.9L696.7,384.8L695.7,384.8L694.7,384.7L693.7,384.6L692.7,384.5L691.7,384.5L690.7,384.4L689.7,384.3L688.7,384.2L687.7,384.2L686.7,384.1L685.7,384.0L684.7,383.9L683.7,383.9L682.7,383.8L681.7,383.7L680.7,383.6L679.7,383.5L678.7,383.5L677.7,383.4L676.7,383.3L675.7,383.2L674.7,383.1L673.7,383.0L672.7,382.9L671.7,382.9L670.7,382.8L669.7,382.7L668.7,382.6L667.7,382.5L666.7,382.4L665.7,382.3L664.7,382.3L663.7,382.2L662.7,382.1L661.7,382.0L660.7,381.9L659.7,381.9L658.7,381.8L657.7,381.7L656.7,381.6L655.7,381.5L654.7,381.5L653.7,381.4L652.7,381.3L651.7,381.2L650.7,381.2L649.7,381.1L648.7,381.0L647.7,380.9L646.7,380.9L645.7,380.8L644.7,380.7L643.7,380.7L642.7,380.6L641.7,380.5L640.7,380.5L639.7,380.4L638.7,380.3L637.7,380.3L636.7,380.2L635.7,380.2L634.7,380.1L633.7,380.1L632.7,380.0L631.7,380.0L630.7,379.9L629.7,379.9L628.7,379.8L627.7,379.8L626.7,379.7L625.7,379.7L624.7,379.7L623.7,379.6L622.7,379.6L621.7,379.6L620.7,379.5L619.7,379.5L618.7,379.5L617.7,379.5L616.7,379.5L615.7,379.5L614.7,379.5L613.7,379.5L612.7,379.6L611.7,379.6L610.7,379.6L609.7,379.7L608.7,379.7L607.7,379.7L606.7,379.8L605.7,379.8L604.7,379.9L603.7,379.9L602.7,380.0L601.7,380.0L600.7,380.1L599.7,380.2L598.7,380.2L597.7,380.3L596.7,380.3L595.7,380.4L594.7,380.5L593.7,380.6L592.7,380.7L591.7,380.8L590.7,380.9L589.7,381.0L588.7,381.1L587.7,381.2L586.7,381.3L585.7,381.4L584.7,381.5L583.7,381.6L582.7,381.7L581.7,381.8L580.7,381.8L579.7,381.9L578.7,382.0L577.7,382.1L576.7,382.2L575.7,382.3L574.7,382.4L573.7,382.5L572.7,382.6L571.7,382.8L570.7,383.1L569.7,383.3L568.7,383.6L567.7,384.0L566.7,384.3L565.7,384.6L564.7,384.8L563.7,385.0L562.7,385.2L561.7,385.3L560.7,385.5L559.7,385.6L558.7,385.7L557.7,385.9L556.7,386.0L555.7,386.1L554.7,386.2L553.7,386.2L552.7,386.3L551.7,386.4L550.7,386.5L549.7,386.5L548.7,386.6L547.7,386.7L546.7,386.7L545.7,386.8L544.7,386.8L543.7,386.9L542.7,387.0L541.7,387.0L540.7,387.1L539.7,387.1L538.7,387.2L537.7,387.2L536.7,387.3L535.7,387.3L534.7,387.3L533.7,387.4L532.7,387.4L531.7,387.5L530.7,387.5L529.7,387.5L528.7,387.6L527.7,387.6L526.7,387.7L525.7,387.7L524.7,387.7L523.7,387.8L522.7,387.8L521.7,387.9L520.7,387.9L519.7,387.9L518.7,388.0L517.7,388.0L516.7,388.1L515.7,388.1L514.7,388.1L513.7,388.2L512.7,388.2L511.7,388.3L510.7,388.3L509.7,388.4L508.7,388.4L507.7,388.5L506.7,388.5L505.7,388.6L504.7,388.7L503.7,388.7L502.7,388.8L501.7,388.8L500.7,388.9L499.7,389.0L498.7,389.0L497.7,389.1L496.7,389.2L495.7,389.2L494.7,389.3L493.7,389.4L492.7,389.5L491.7,389.5L490.7,389.6L489.7,389.7L488.7,389.7L487.7,389.8L486.7,389.9L485.7,390.0L484.7,390.0L483.7,390.1L482.7,390.2L481.7,390.2L480.7,390.3L479.7,390.4L478.7,390.4L477.7,390.5L476.7,390.6L475.7,390.6L474.7,390.7L473.7,390.7L472.7,390.8L471.7,390.8L470.7,390.9L469.7,390.9L468.7,391.0L467.7,391.0L466.7,391.1L465.7,391.1L464.7,391.1L463.7,391.2L462.7,391.2L461.7,391.2L460.7,391.2L459.7,391.3L458.7,391.3L457.7,391.3L456.7,391.3L455.7,391.3L454.7,391.3L453.7,391.3L452.7,391.3L451.7,391.3L450.7,391.3L449.7,391.3L448.7,391.2L447.7,391.2L446.7,391.2L445.7,391.2L444.7,391.1L443.7,391.1L442.7,391.1L441.7,391.0L440.7,391.0L439.7,390.9L438.7,390.9L437.7,390.9L436.7,390.8L435.7,390.8L434.7,390.7L433.7,390.6L432.7,390.6L431.7,390.5L430.7,390.5L429.7,390.4L428.7,390.3L427.7,390.2L426.7,390.2L425.7,390.1L424.7,390.0L423.7,389.9L422.7,389.8L421.7,389.8L420.7,389.7L419.7,389.6L418.7,389.5L417.7,389.4L416.7,389.3L415.7,389.2L414.7,389.1L413.7,389.0L412.7,388.9Z" fill="#0071bc"/>
<path d="M412.7,342.0L413.7,342.7L414.7,343.5L415.7,344.2L416.7,345.0L417.7,345.7L418.7,346.5L419.7,347.2L420.7,347.9L421.7,348.7L422.7,349.4L423.7,350.1L424.7,350.8L425.7,351.6L426.7,352.3L427.7,353.0L428.7,353.7L429.7,354.4L430.7,355.2L431.7,355.9L432.7,356.6L433.7,357.3L434.7,358.0L435.7,358.7L436.7,359.4L437.7,360.1L438.7,360.8L439.7,361.5L440.7,362.2L441.7,362.9L442.7,363.6L443.7,364.3L444.7,365.0L445.7,365.6L446.7,366.3L447.7,367.0L448.7,367.7L449.7,368.4L450.7,369.0L451.7,369.7L452.7,370.4L453.7,371.1L454.7,371.7L455.1,372.0L455.1,372.0L456.1,371.2L457.1,370.5L458.1,369.8L459.1,369.1L460.1,368.4L461.1,367.7L462.1,367.0L463.1,366.4L464.1,365.8L465.1,365.1L466.1,364.5L467.1,363.9L468.1,363.4L469.1,362.8L470.1,362.2L471.1,361.7L472.1,361.2L473.1,360.7L474.1,360.2L475.1,359.7L476.1,359.2L477.1,358.7L478.1,358.2L479.1,357.8L480.1,357.2L481.1,356.7L482.1,356.2L483.1,355.7L484.1,355.2L485.1,354.7L486.1,354.2L487.1,353.7L488.1,353.1L489.1,352.6L490.1,352.1L491.1,351.6L492.1,351.0L493.1,350.5L494.1,350.0L495.1,349.4L496.1,348.9L497.1,348.3L498.1,347.7L499.1,347.0L500.1,346.3L501.1,345.6L502.1,344.8L503.1,344.0L504.1,343.1L505.1,342.3L506.1,341.5L507.1,340.7L508.1,340.0L509.1,339.4L510.1,338.9L511.1,338.3L512.1,337.8L513.1,337.4L514.1,336.9L515.1,336.5L516.1,336.2L517.1,336.0L518.1,335.8L519.1,335.6L520.1,335.4L521.1,335.3L522.1,335.2L523.1,335.1L524.1,335.1L525.1,335.2L526.1,335.4L527.1,335.7L528.1,336.0L529.1,336.3L530.1,336.7L531.1,337.2L532.1,337.6L533.1,338.0L534.1,338.4L535.1,338.9L536.1,339.6L537.1,340.2L538.1,340.9L539.1,341.5L540.1,342.0L541.1,342.4L542.1,342.8L543.1,343.1L544.1,343.4L545.1,343.6L546.1,343.7L547.1,343.6L548.1,343.4L549.1,343.2L550.1,342.8L551.1,342.4L552.1,342.0L553.1,341.5L554.1,340.8L555.1,340.0L556.1,339.0L557.1,338.0L558.1,336.9L559.1,335.7L560.1,334.3L561.1,332.7L562.1,330.9L563.1,329.1L564.1,327.2L565.1,325.2L566.1,323.0L567.1,320.8L568.1,318.6L569.1,316.5L570.1,314.4L571.1,312.4L571.1,312.4L572.1,311.9L573.1,311.5L574.1,311.1L575.1,310.7L576.1,310.4L577.1,310.0L578.1,309.8L579.1,309.5L580.1,309.3L581.1,309.1L582.1,309.0L583.1,308.8L584.1,308.6L585.1,308.5L586.1,308.3L587.1,308.2L588.1,308.0L589.1,307.9L590.1,307.7L591.1,307.6L592.1,307.5L593.1,307.4L594.1,307.4L595.1,307.4L596.1,307.5L597.1,307.5L598.1,307.6L599.1,307.8L600.1,307.9L601.1,308.1L602.1,308.3L603.1,308.4L604.1,308.6L605.1,308.9L606.1,309.2L607.1,309.6L608.1,310.0L609.1,310.4L610.1,310.8L611.1,311.3L612.1,311.7L613.1,312.2L614.1,312.6L615.1,313.1L616.1,313.5L617.1,314.0L618.1,314.5L619.1,315.0L620.1,315.5L621.1,316.0L622.1,316.6L623.1,317.1L624.1,317.7L625.1,318.2L626.1,318.8L627.1,319.4L628.1,320.0L629.1,320.7L630.1,321.3L631.1,321.9L632.1,322.5L633.1,323.1L634.1,323.8L635.1,324.4L636.1,325.0L637.1,325.6L638.1,326.2L639.1,326.8L640.1,327.4L641.1,328.1L642.1,328.7L643.1,329.3L644.1,329.9L645.1,330.5L646.1,331.2L647.1,331.8L648.1,332.4L649.1,333.0L650.1,333.6L651.1,334.3L652.1,334.9L653.1,335.5L654.1,336.2L655.1,336.8L656.1,337.4L657.1,338.0L658.1,338.7L659.1,339.3L660.1,339.9L661.1,340.5L662.1,341.1L663.1,341.7L664.1,342.3L665.1,342.9L666.1,343.5L667.1,344.1L668.1,344.7L669.1,345.2L670.1,345.8L671.1,346.4L672.1,347.0L673.1,347.5L674.1,348.1L675.1,348.6L676.1,349.2L677.1,349.7L678.1,350.3L679.1,350.8L680.1,351.3L681.1,351.9L682.1,352.4L683.1,352.9L684.1,353.4L685.1,353.9L686.1,354.4L687.1,354.9L688.1,355.4L689.1,355.9L690.1,356.4L691.1,356.9L692.1,357.4L693.1,357.9L694.1,358.4L695.1,358.8L696.1,359.3L697.1,359.8L698.1,360.2L699.1,360.7L700.1,361.1L701.1,361.6L702.1,362.0L703.1,362.5L704.1,362.9L705.1,363.3L706.1,363.8L707.1,364.2L708.1,364.6L709.1,365.0L710.1,365.4L711.1,365.8L712.1,366.2L713.1,366.6L714.1,367.0L715.1,367.3L716.1,367.7L717.1,368.1L718.1,368.4L719.1,368.8L720.1,369.1L721.1,369.5L722.1,369.8L723.1,370.1L724.1,370.5L725.1,370.8L726.1,371.1L727.1,371.5L728.1,371.8L729.1,372.1L730.1,372.4L731.1,372.7L732.1,373.0L733.1,373.3L734.1,373.6L735.1,373.9L736.1,374.1L737.1,374.4L738.1,374.7L739.1,374.9L740.1,375.2L741.1,375.5L742.1,375.7L743.1,376.0L744.1,376.2L745.1,376.5L746.1,376.7L747.1,377.0L748.1,377.2L749.1,377.4L750.1,377.7L751.1,377.9L752.1,378.1L753.1,378.3L754.1,378.5L755.1,378.8L756.1,379.0L756.3,379.0L756.3,388.1L755.7,388.1L754.7,388.0L753.7,388.0L752.7,388.0L751.7,387.9L750.7,387.9L749.7,387.8L748.7,387.8L747.7,387.7L746.7,387.7L745.7,387.6L744.7,387.6L743.7,387.6L742.7,387.5L741.7,387.5L740.7,387.4L739.7,387.4L738.7,387.3L737.7,387.3L736.7,387.2L735.7,387.2L734.7,387.1L733.7,387.1L732.7,387.0L731.7,387.0L730.7,386.9L729.7,386.9L728.7,386.8L727.7,386.7L726.7,386.7L725.7,386.6L724.7,386.6L723.7,386.5L722.7,386.5L721.7,386.4L720.7,386.4L719.7,386.3L718.7,386.2L717.7,386.2L716.7,386.1L715.7,386.1L714.7,386.0L713.7,386.0L712.7,385.9L711.7,385.8L710.7,385.8L709.7,385.7L708.7,385.6L707.7,385.6L706.7,385.5L705.7,385.5L704.7,385.4L703.7,385.3L702.7,385.3L701.7,385.2L700.7,385.1L699.7,385.0L698.7,385.0L697.7,384.9L696.7,384.8L695.7,384.8L694.7,384.7L693.7,384.6L692.7,384.5L691.7,384.5L690.7,384.4L689.7,384.3L688.7,384.2L687.7,384.2L686.7,384.1L685.7,384.0L684.7,383.9L683.7,383.9L682.7,383.8L681.7,383.7L680.7,383.6L679.7,383.5L678.7,383.5L677.7,383.4L676.7,383.3L675.7,383.2L674.7,383.1L673.7,383.0L672.7,382.9L671.7,382.9L670.7,382.8L669.7,382.7L668.7,382.6L667.7,382.5L666.7,382.4L665.7,382.3L664.7,382.3L663.7,382.2L662.7,382.1L661.7,382.0L660.7,381.9L659.7,381.9L658.7,381.8L657.7,381.7L656.7,381.6L655.7,381.5L654.7,381.5L653.7,381.4L652.7,381.3L651.7,381.2L650.7,381.2L649.7,381.1L648.7,381.0L647.7,380.9L646.7,380.9L645.7,380.8L644.7,380.7L643.7,380.7L642.7,380.6L641.7,380.5L640.7,380.5L639.7,380.4L638.7,380.3L637.7,380.3L636.7,380.2L635.7,380.2L634.7,380.1L633.7,380.1L632.7,380.0L631.7,380.0L630.7,379.9L629.7,379.9L628.7,379.8L627.7,379.8L626.7,379.7L625.7,379.7L624.7,379.7L623.7,379.6L622.7,379.6L621.7,379.6L620.7,379.5L619.7,379.5L618.7,379.5L617.7,379.5L616.7,379.5L615.7,379.5L614.7,379.5L613.7,379.5L612.7,379.6L611.7,379.6L610.7,379.6L609.7,379.7L608.7,379.7L607.7,379.7L606.7,379.8L605.7,379.8L604.7,379.9L603.7,379.9L602.7,380.0L601.7,380.0L600.7,380.1L599.7,380.2L598.7,380.2L597.7,380.3L596.7,380.3L595.7,380.4L594.7,380.5L593.7,380.6L592.7,380.7L591.7,380.8L590.7,380.9L589.7,381.0L588.7,381.1L587.7,381.2L586.7,381.3L585.7,381.4L584.7,381.5L583.7,381.6L582.7,381.7L581.7,381.8L580.7,381.8L579.7,381.9L578.7,382.0L577.7,382.1L576.7,382.2L575.7,382.3L574.7,382.4L573.7,382.5L572.7,382.6L571.7,382.8L570.7,383.1L569.7,383.3L568.7,383.6L567.7,384.0L566.7,384.3L565.7,384.6L564.7,384.8L563.7,385.0L562.7,385.2L561.7,385.3L560.7,385.5L559.7,385.6L558.7,385.7L557.7,385.9L556.7,386.0L555.7,386.1L554.7,386.2L553.7,386.2L552.7,386.3L551.7,386.4L550.7,386.5L549.7,386.5L548.7,386.6L547.7,386.7L546.7,386.7L545.7,386.8L544.7,386.8L543.7,386.9L542.7,387.0L541.7,387.0L540.7,387.1L539.7,387.1L538.7,387.2L537.7,387.2L536.7,387.3L535.7,387.3L534.7,387.3L533.7,387.4L532.7,387.4L531.7,387.5L530.7,387.5L529.7,387.5L528.7,387.6L527.7,387.6L526.7,387.7L525.7,387.7L524.7,387.7L523.7,387.8L522.7,387.8L521.7,387.9L520.7,387.9L519.7,387.9L518.7,388.0L517.7,388.0L516.7,388.1L515.7,388.1L514.7,388.1L513.7,388.2L512.7,388.2L511.7,388.3L510.7,388.3L509.7,388.4L508.7,388.4L507.7,388.5L506.7,388.5L505.7,388.6L504.7,388.7L503.7,388.7L502.7,388.8L501.7,388.8L500.7,388.9L499.7,389.0L498.7,389.0L497.7,389.1L496.7,389.2L495.7,389.2L494.7,389.3L493.7,389.4L492.7,389.5L491.7,389.5L490.7,389.6L489.7,389.7L488.7,389.7L487.7,389.8L486.7,389.9L485.7,390.0L484.7,390.0L483.7,390.1L482.7,390.2L481.7,390.2L480.7,390.3L479.7,390.4L478.7,390.4L477.7,390.5L476.7,390.6L475.7,390.6L474.7,390.7L473.7,390.7L472.7,390.8L471.7,390.8L470.7,390.9L469.7,390.9L468.7,391.0L467.7,391.0L466.7,391.1L465.7,391.1L464.7,391.1L463.7,391.2L462.7,391.2L461.7,391.2L460.7,391.2L459.7,391.3L458.7,391.3L457.7,391.3L456.7,391.3L455.7,391.3L454.7,391.3L453.7,391.3L452.7,391.3L451.7,391.3L450.7,391.3L449.7,391.3L448.7,391.2L447.7,391.2L446.7,391.2L445.7,391.2L444.7,391.1L443.7,391.1L442.7,391.1L441.7,391.0L440.7,391.0L439.7,390.9L438.7,390.9L437.7,390.9L436.7,390.8L435.7,390.8L434.7,390.7L433.7,390.6L432.7,390.6L431.7,390.5L430.7,390.5L429.7,390.4L428.7,390.3L427.7,390.2L426.7,390.2L425.7,390.1L424.7,390.0L423.7,389.9L422.7,389.8L421.7,389.8L420.7,389.7L419.7,389.6L418.7,389.5L417.7,389.4L416.7,389.3L415.7,389.2L414.7,389.1L413.7,389.0L412.7,388.9Z" fill="#4a9ad1"/>
<path d="M412.7,346.7L413.7,347.4L414.7,348.1L415.7,348.8L416.7,349.5L417.7,350.1L418.7,350.8L419.7,351.5L420.7,352.2L421.7,352.9L422.7,353.5L423.7,354.2L424.7,354.9L425.7,355.5L426.7,356.2L427.7,356.9L428.7,357.5L429.7,358.2L430.7,358.9L431.7,359.5L432.7,360.2L433.7,360.8L434.7,361.5L435.7,362.1L436.7,362.7L437.7,363.4L438.7,364.0L439.7,364.7L440.7,365.3L441.7,365.9L442.7,366.6L443.7,367.2L444.7,367.8L445.7,368.4L446.7,369.1L447.7,369.7L448.7,370.3L449.7,370.9L450.7,371.5L451.7,372.1L452.7,372.7L453.7,373.4L454.7,374.0L455.1,374.2L455.1,374.2L456.1,373.5L457.1,372.8L458.1,372.2L459.1,371.5L460.1,370.9L461.1,370.2L462.1,369.6L463.1,369.0L464.1,368.5L465.1,367.9L466.1,367.3L467.1,366.8L468.1,366.2L469.1,365.7L470.1,365.2L471.1,364.7L472.1,364.2L473.1,363.8L474.1,363.3L475.1,362.9L476.1,362.4L477.1,362.0L478.1,361.6L479.1,361.1L480.1,360.7L481.1,360.3L482.1,359.9L483.1,359.5L484.1,359.1L485.1,358.7L486.1,358.3L487.1,357.9L488.1,357.5L489.1,357.0L490.1,356.6L491.1,356.2L492.1,355.9L493.1,355.5L494.1,355.0L495.1,354.6L496.1,354.2L497.1,353.7L498.1,353.3L499.1,352.7L500.1,352.2L501.1,351.6L502.1,350.9L503.1,350.2L504.1,349.4L505.1,348.7L506.1,348.0L507.1,347.3L508.1,346.7L509.1,346.2L510.1,345.7L511.1,345.3L512.1,344.8L513.1,344.4L514.1,344.0L515.1,343.6L516.1,343.3L517.1,343.0L518.1,342.8L519.1,342.6L520.1,342.4L521.1,342.2L522.1,342.1L523.1,342.0L524.1,341.9L525.1,341.8L526.1,341.8L527.1,341.9L528.1,342.0L529.1,342.3L530.1,342.6L531.1,342.9L532.1,343.3L533.1,343.6L534.1,344.0L535.1,344.4L536.1,345.0L537.1,345.6L538.1,346.1L539.1,346.7L540.1,347.2L541.1,347.5L542.1,347.9L543.1,348.2L544.1,348.5L545.1,348.7L546.1,348.9L547.1,349.0L548.1,349.0L549.1,348.8L550.1,348.5L551.1,348.2L552.1,347.9L553.1,347.4L554.1,346.8L555.1,346.1L556.1,345.2L557.1,344.2L558.1,343.1L559.1,342.0L560.1,340.7L561.1,339.3L562.1,337.6L563.1,336.0L564.1,334.2L565.1,332.2L566.1,330.1L567.1,327.9L568.1,325.9L569.1,324.1L570.1,322.5L571.1,320.9L571.6,320.2L571.6,320.2L572.6,319.9L573.6,319.6L574.6,319.4L575.6,319.1L576.6,318.9L577.6,318.6L578.6,318.4L579.6,318.1L580.6,317.9L581.6,317.7L582.6,317.4L583.6,317.2L584.6,317.0L585.6,316.8L586.6,316.5L587.6,316.2L588.6,316.0L589.6,315.7L590.6,315.5L591.6,315.2L592.6,315.0L593.6,314.9L594.6,314.8L595.6,314.7L596.6,314.6L597.6,314.5L598.6,314.4L599.6,314.3L600.6,314.3L601.6,314.2L602.6,314.2L603.6,314.2L604.6,314.2L605.6,314.3L606.6,314.4L607.6,314.5L608.6,314.6L609.6,314.8L610.6,314.9L611.6,315.1L612.6,315.3L613.6,315.5L614.6,315.7L615.6,315.9L616.6,316.2L617.6,316.5L618.6,316.8L619.6,317.1L620.6,317.4L621.6,317.8L622.6,318.1L623.6,318.5L624.6,319.0L625.6,319.4L626.6,319.9L627.6,320.4L628.6,321.0L629.6,321.5L630.6,322.1L631.6,322.7L632.6,323.2L633.6,323.8L634.6,324.4L635.6,324.9L636.6,325.5L637.6,326.1L638.6,326.7L639.6,327.3L640.6,327.9L641.6,328.6L642.6,329.2L643.6,329.8L644.6,330.5L645.6,331.1L646.6,331.8L647.6,332.4L648.6,333.0L649.6,333.6L650.6,334.3L651.6,334.9L652.6,335.5L653.6,336.1L654.6,336.8L655.6,337.4L656.6,338.0L657.6,338.7L658.6,339.3L659.6,339.9L660.6,340.5L661.6,341.1L662.6,341.7L663.6,342.3L664.6,342.9L665.6,343.5L666.6,344.1L667.6,344.7L668.6,345.3L669.6,345.8L670.6,346.4L671.6,347.0L672.6,347.5L673.6,348.1L674.6,348.7L675.6,349.2L676.6,349.8L677.6,350.3L678.6,350.8L679.6,351.4L680.6,351.9L681.6,352.4L682.6,352.9L683.6,353.5L684.6,354.0L685.6,354.5L686.6,355.0L687.6,355.5L688.6,356.0L689.6,356.5L690.6,357.0L691.6,357.5L692.6,357.9L693.6,358.4L694.6,358.9L695.6,359.4L696.6,359.8L697.6,360.3L698.6,360.8L699.6,361.2L700.6,361.7L701.6,362.1L702.6,362.6L703.6,363.0L704.6,363.4L705.6,363.8L706.6,364.3L707.6,364.7L708.6,365.1L709.6,365.5L710.6,365.9L711.6,366.3L712.6,366.7L713.6,367.1L714.6,367.4L715.6,367.8L716.6,368.2L717.6,368.6L718.6,368.9L719.6,369.3L720.6,369.6L721.6,369.9L722.6,370.3L723.6,370.6L724.6,370.9L725.6,371.3L726.6,371.6L727.6,371.9L728.6,372.2L729.6,372.5L730.6,372.8L731.6,373.1L732.6,373.4L733.6,373.7L734.6,374.0L735.6,374.3L736.6,374.6L737.6,374.8L738.6,375.1L739.6,375.4L740.6,375.6L741.6,375.9L742.6,376.2L743.6,376.4L744.6,376.7L745.6,376.9L746.6,377.1L747.6,377.4L748.6,377.6L749.6,377.9L750.6,378.1L751.6,378.3L752.6,378.5L753.6,378.7L754.6,379.0L755.6,379.2L756.3,379.3L756.3,388.1L755.7,388.1L754.7,388.0L753.7,388.0L752.7,388.0L751.7,387.9L750.7,387.9L749.7,387.8L748.7,387.8L747.7,387.7L746.7,387.7L745.7,387.6L744.7,387.6L743.7,387.6L742.7,387.5L741.7,387.5L740.7,387.4L739.7,387.4L738.7,387.3L737.7,387.3L736.7,387.2L735.7,387.2L734.7,387.1L733.7,387.1L732.7,387.0L731.7,387.0L730.7,386.9L729.7,386.9L728.7,386.8L727.7,386.7L726.7,386.7L725.7,386.6L724.7,386.6L723.7,386.5L722.7,386.5L721.7,386.4L720.7,386.4L719.7,386.3L718.7,386.2L717.7,386.2L716.7,386.1L715.7,386.1L714.7,386.0L713.7,386.0L712.7,385.9L711.7,385.8L710.7,385.8L709.7,385.7L708.7,385.6L707.7,385.6L706.7,385.5L705.7,385.5L704.7,385.4L703.7,385.3L702.7,385.3L701.7,385.2L700.7,385.1L699.7,385.0L698.7,385.0L697.7,384.9L696.7,384.8L695.7,384.8L694.7,384.7L693.7,384.6L692.7,384.5L691.7,384.5L690.7,384.4L689.7,384.3L688.7,384.2L687.7,384.2L686.7,384.1L685.7,384.0L684.7,383.9L683.7,383.9L682.7,383.8L681.7,383.7L680.7,383.6L679.7,383.5L678.7,383.5L677.7,383.4L676.7,383.3L675.7,383.2L674.7,383.1L673.7,383.0L672.7,382.9L671.7,382.9L670.7,382.8L669.7,382.7L668.7,382.6L667.7,382.5L666.7,382.4L665.7,382.3L664.7,382.3L663.7,382.2L662.7,382.1L661.7,382.0L660.7,381.9L659.7,381.9L658.7,381.8L657.7,381.7L656.7,381.6L655.7,381.5L654.7,381.5L653.7,381.4L652.7,381.3L651.7,381.2L650.7,381.2L649.7,381.1L648.7,381.0L647.7,380.9L646.7,380.9L645.7,380.8L644.7,380.7L643.7,380.7L642.7,380.6L641.7,380.5L640.7,380.5L639.7,380.4L638.7,380.3L637.7,380.3L636.7,380.2L635.7,380.2L634.7,380.1L633.7,380.1L632.7,380.0L631.7,380.0L630.7,379.9L629.7,379.9L628.7,379.8L627.7,379.8L626.7,379.7L625.7,379.7L624.7,379.7L623.7,379.6L622.7,379.6L621.7,379.6L620.7,379.5L619.7,379.5L618.7,379.5L617.7,379.5L616.7,379.5L615.7,379.5L614.7,379.5L613.7,379.5L612.7,379.6L611.7,379.6L610.7,379.6L609.7,379.7L608.7,379.7L607.7,379.7L606.7,379.8L605.7,379.8L604.7,379.9L603.7,379.9L602.7,380.0L601.7,380.0L600.7,380.1L599.7,380.2L598.7,380.2L597.7,380.3L596.7,380.3L595.7,380.4L594.7,380.5L593.7,380.6L592.7,380.7L591.7,380.8L590.7,380.9L589.7,381.0L588.7,381.1L587.7,381.2L586.7,381.3L585.7,381.4L584.7,381.5L583.7,381.6L582.7,381.7L581.7,381.8L580.7,381.8L579.7,381.9L578.7,382.0L577.7,382.1L576.7,382.2L575.7,382.3L574.7,382.4L573.7,382.5L572.7,382.6L571.7,382.8L570.7,383.1L569.7,383.3L568.7,383.6L567.7,384.0L566.7,384.3L565.7,384.6L564.7,384.8L563.7,385.0L562.7,385.2L561.7,385.3L560.7,385.5L559.7,385.6L558.7,385.7L557.7,385.9L556.7,386.0L555.7,386.1L554.7,386.2L553.7,386.2L552.7,386.3L551.7,386.4L550.7,386.5L549.7,386.5L548.7,386.6L547.7,386.7L546.7,386.7L545.7,386.8L544.7,386.8L543.7,386.9L542.7,387.0L541.7,387.0L540.7,387.1L539.7,387.1L538.7,387.2L537.7,387.2L536.7,387.3L535.7,387.3L534.7,387.3L533.7,387.4L532.7,387.4L531.7,387.5L530.7,387.5L529.7,387.5L528.7,387.6L527.7,387.6L526.7,387.7L525.7,387.7L524.7,387.7L523.7,387.8L522.7,387.8L521.7,387.9L520.7,387.9L519.7,387.9L518.7,388.0L517.7,388.0L516.7,388.1L515.7,388.1L514.7,388.1L513.7,388.2L512.7,388.2L511.7,388.3L510.7,388.3L509.7,388.4L508.7,388.4L507.7,388.5L506.7,388.5L505.7,388.6L504.7,388.7L503.7,388.7L502.7,388.8L501.7,388.8L500.7,388.9L499.7,389.0L498.7,389.0L497.7,389.1L496.7,389.2L495.7,389.2L494.7,389.3L493.7,389.4L492.7,389.5L491.7,389.5L490.7,389.6L489.7,389.7L488.7,389.7L487.7,389.8L486.7,389.9L485.7,390.0L484.7,390.0L483.7,390.1L482.7,390.2L481.7,390.2L480.7,390.3L479.7,390.4L478.7,390.4L477.7,390.5L476.7,390.6L475.7,390.6L474.7,390.7L473.7,390.7L472.7,390.8L471.7,390.8L470.7,390.9L469.7,390.9L468.7,391.0L467.7,391.0L466.7,391.1L465.7,391.1L464.7,391.1L463.7,391.2L462.7,391.2L461.7,391.2L460.7,391.2L459.7,391.3L458.7,391.3L457.7,391.3L456.7,391.3L455.7,391.3L454.7,391.3L453.7,391.3L452.7,391.3L451.7,391.3L450.7,391.3L449.7,391.3L448.7,391.2L447.7,391.2L446.7,391.2L445.7,391.2L444.7,391.1L443.7,391.1L442.7,391.1L441.7,391.0L440.7,391.0L439.7,390.9L438.7,390.9L437.7,390.9L436.7,390.8L435.7,390.8L434.7,390.7L433.7,390.6L432.7,390.6L431.7,390.5L430.7,390.5L429.7,390.4L428.7,390.3L427.7,390.2L426.7,390.2L425.7,390.1L424.7,390.0L423.7,389.9L422.7,389.8L421.7,389.8L420.7,389.7L419.7,389.6L418.7,389.5L417.7,389.4L416.7,389.3L415.7,389.2L414.7,389.1L413.7,389.0L412.7,388.9Z" fill="#9ac6e4"/>
<path d="M412.7,388.4L413.7,388.5L414.7,388.6L415.7,388.7L416.7,388.8L417.7,388.9L418.7,389.0L419.7,389.1L420.7,389.2L421.7,389.3L422.7,389.3L423.7,389.4L424.7,389.5L425.7,389.6L426.7,389.7L427.7,389.7L428.7,389.8L429.7,389.9L430.7,390.0L431.7,390.0L432.7,390.1L433.7,390.1L434.7,390.2L435.7,390.3L436.7,390.3L437.7,390.4L438.7,390.4L439.7,390.4L440.7,390.5L441.7,390.5L442.7,390.6L443.7,390.6L444.7,390.6L445.7,390.7L446.7,390.7L447.7,390.7L448.7,390.7L449.7,390.8L450.7,390.8L451.7,390.8L452.7,390.8L453.7,390.8L454.7,390.8L455.7,390.8L456.7,390.8L457.7,390.8L458.7,390.8L459.7,390.8L460.7,390.7L461.7,390.7L462.7,390.7L463.7,390.7L464.7,390.6L465.7,390.6L466.7,390.6L467.7,390.5L468.7,390.5L469.7,390.4L470.7,390.4L471.7,390.3L472.7,390.3L473.7,390.2L474.7,390.2L475.7,390.1L476.7,390.1L477.7,390.0L478.7,389.9L479.7,389.9L480.7,389.8L481.7,389.7L482.7,389.7L483.7,389.6L484.7,389.5L485.7,389.5L486.7,389.4L487.7,389.3L488.7,389.2L489.7,389.2L490.7,389.1L491.7,389.0L492.7,389.0L493.7,388.9L494.7,388.8L495.7,388.7L496.7,388.7L497.7,388.6L498.7,388.5L499.7,388.5L500.7,388.4L501.7,388.3L502.7,388.3L503.7,388.2L504.7,388.2L505.7,388.1L506.7,388.0L507.7,388.0L508.7,387.9L509.7,387.9L510.7,387.8L511.7,387.8L512.7,387.7L513.7,387.7L514.7,387.6L515.7,387.6L516.7,387.6L517.7,387.5L518.7,387.5L519.7,387.4L520.7,387.4L521.7,387.4L522.7,387.3L523.7,387.3L524.7,387.2L525.7,387.2L526.7,387.2L527.7,387.1L528.7,387.1L529.7,387.0L530.7,387.0L531.7,387.0L532.7,386.9L533.7,386.9L534.7,386.8L535.7,386.8L536.7,386.8L537.7,386.7L538.7,386.7L539.7,386.6L540.7,386.6L541.7,386.5L542.7,386.5L543.7,386.4L544.7,386.3L545.7,386.3L546.7,386.2L547.7,386.2L548.7,386.1L549.7,386.0L550.7,386.0L551.7,385.9L552.7,385.8L553.7,385.7L554.7,385.7L555.7,385.6L556.7,385.5L557.7,385.4L558.7,385.2L559.7,385.1L560.7,385.0L561.7,384.8L562.7,384.7L563.7,384.5L564.7,384.3L565.7,384.1L566.7,383.8L567.7,383.5L568.7,383.1L569.7,382.8L570.7,382.6L571.7,382.3L572.7,382.1L573.7,382.0L574.7,381.9L575.7,381.8L576.7,381.7L577.7,381.6L578.7,381.5L579.7,381.4L580.7,381.3L581.7,381.3L582.7,381.2L583.7,381.1L584.7,381.0L585.7,380.9L586.7,380.8L587.7,380.7L588.7,380.6L589.7,380.5L590.7,380.4L591.7,380.3L592.7,380.2L593.7,380.1L594.7,380.0L595.7,379.9L596.7,379.8L597.7,379.8L598.7,379.7L599.7,379.7L600.7,379.6L601.7,379.5L602.7,379.5L603.7,379.4L604.7,379.4L605.7,379.3L606.7,379.3L607.7,379.2L608.7,379.2L609.7,379.2L610.7,379.1L611.7,379.1L612.7,379.1L613.7,379.0L614.7,379.0L615.7,379.0L616.7,379.0L617.7,379.0L618.7,379.0L619.7,379.0L620.7,379.0L621.7,379.1L622.7,379.1L623.7,379.1L624.7,379.2L625.7,379.2L626.7,379.2L627.7,379.3L628.7,379.3L629.7,379.4L630.7,379.4L631.7,379.5L632.7,379.5L633.7,379.6L634.7,379.6L635.7,379.7L636.7,379.7L637.7,379.8L638.7,379.8L639.7,379.9L640.7,380.0L641.7,380.0L642.7,380.1L643.7,380.2L644.7,380.2L645.7,380.3L646.7,380.4L647.7,380.4L648.7,380.5L649.7,380.6L650.7,380.7L651.7,380.7L652.7,380.8L653.7,380.9L654.7,381.0L655.7,381.0L656.7,381.1L657.7,381.2L658.7,381.3L659.7,381.4L660.7,381.4L661.7,381.5L662.7,381.6L663.7,381.7L664.7,381.8L665.7,381.8L666.7,381.9L667.7,382.0L668.7,382.1L669.7,382.2L670.7,382.3L671.7,382.4L672.7,382.4L673.7,382.5L674.7,382.6L675.7,382.7L676.7,382.8L677.7,382.9L678.7,383.0L679.7,383.0L680.7,383.1L681.7,383.2L682.7,383.3L683.7,383.4L684.7,383.4L685.7,383.5L686.7,383.6L687.7,383.7L688.7,383.7L689.7,383.8L690.7,383.9L691.7,384.0L692.7,384.0L693.7,384.1L694.7,384.2L695.7,384.3L696.7,384.3L697.7,384.4L698.7,384.5L699.7,384.5L700.7,384.6L701.7,384.7L702.7,384.8L703.7,384.8L704.7,384.9L705.7,385.0L706.7,385.0L707.7,385.1L708.7,385.1L709.7,385.2L710.7,385.3L711.7,385.3L712.7,385.4L713.7,385.5L714.7,385.5L715.7,385.6L716.7,385.6L717.7,385.7L718.7,385.7L719.7,385.8L720.7,385.9L721.7,385.9L722.7,386.0L723.7,386.0L724.7,386.1L725.7,386.1L726.7,386.2L727.7,386.2L728.7,386.3L729.7,386.4L730.7,386.4L731.7,386.5L732.7,386.5L733.7,386.6L734.7,386.6L735.7,386.7L736.7,386.7L737.7,386.8L738.7,386.8L739.7,386.9L740.7,386.9L741.7,387.0L742.7,387.0L743.7,387.1L744.7,387.1L745.7,387.1L746.7,387.2L747.7,387.2L748.7,387.3L749.7,387.3L750.7,387.4L751.7,387.4L752.7,387.5L753.7,387.5L754.7,387.5L755.7,387.6L756.3,387.6L756.3,391.4L412.7,391.4Z" fill="#e5f1f9"/>
<rect x="413.2" y="62.5" width="342.8" height="27.0" fill="#d9d9d9" stroke="#333333" stroke-width="1.1"/>
<text class="strip" x="584.8" y="81" text-anchor="middle" textLength="118" lengthAdjust="spacingAndGlyphs">Impfquote: 85 Prozent</text>
<line x1="412.7" x2="756.3" y1="405.9" y2="405.9" stroke="#d7d7d7" stroke-width="1.4"/>
<line x1="413.6" x2="413.6" y1="405.9" y2="410.5" stroke="#d7d7d7" stroke-width="1.2"/>
<text class="xt" text-anchor="end" transform="translate(420.6,420.8) rotate(-45)">Jul-21</text>
<line x1="452.5" x2="452.5" y1="405.9" y2="410.5" stroke="#d7d7d7" stroke-width="1.2"/>
<text class="xt" text-anchor="end" transform="translate(459.5,420.8) rotate(-45)">Aug-21</text>
<line x1="491.5" x2="491.5" y1="405.9" y2="410.5" stroke="#d7d7d7" stroke-width="1.2"/>
<text class="xt" text-anchor="end" transform="translate(498.5,420.8) rotate(-45)">Sep-21</text>
<line x1="529.2" x2="529.2" y1="405.9" y2="410.5" stroke="#d7d7d7" stroke-width="1.2"/>
<text class="xt" text-anchor="end" transform="translate(536.2,420.8) rotate(-45)">Okt-21</text>
<line x1="568.1" x2="568.1" y1="405.9" y2="410.5" stroke="#d7d7d7" stroke-width="1.2"/>
<text class="xt" text-anchor="end" transform="translate(575.1,420.8) rotate(-45)">Nov-21</text>
<line x1="605.8" x2="605.8" y1="405.9" y2="410.5" stroke="#d7d7d7" stroke-width="1.2"/>
<text class="xt" text-anchor="end" transform="translate(612.8,420.8) rotate(-45)">Dez-21</text>
<line x1="644.7" x2="644.7" y1="405.9" y2="410.5" stroke="#d7d7d7" stroke-width="1.2"/>
<text class="xt" text-anchor="end" transform="translate(651.7,420.8) rotate(-45)">Jan-22</text>
<line x1="683.7" x2="683.7" y1="405.9" y2="410.5" stroke="#d7d7d7" stroke-width="1.2"/>
<text class="xt" text-anchor="end" transform="translate(690.7,420.8) rotate(-45)">Feb-22</text>
<line x1="718.8" x2="718.8" y1="405.9" y2="410.5" stroke="#d7d7d7" stroke-width="1.2"/>
<text class="xt" text-anchor="end" transform="translate(725.8,420.8) rotate(-45)">Mrz-22</text>
<line x1="766.2" x2="1109.8" y1="188.4" y2="188.4" stroke="#e3e3e3" stroke-width="1.6"/>
<line x1="766.2" x2="1109.8" y1="289.9" y2="289.9" stroke="#e3e3e3" stroke-width="1.6"/>
<line x1="766.2" x2="1109.8" y1="391.3" y2="391.3" stroke="#e3e3e3" stroke-width="1.6"/>
<path d="M766.2,337.9L767.2,338.7L768.2,339.4L769.2,340.2L770.2,341.0L771.2,341.7L772.2,342.5L773.2,343.3L774.2,344.0L775.2,344.8L776.2,345.5L777.2,346.3L778.2,347.1L779.2,347.8L780.2,348.6L781.2,349.4L782.2,350.1L783.2,350.9L784.2,351.7L785.2,352.4L786.2,353.2L787.2,354.0L788.2,354.7L789.2,355.5L790.2,356.2L791.2,357.0L792.2,357.8L793.2,358.5L794.2,359.3L795.2,360.1L796.2,360.8L797.2,361.6L798.2,362.4L799.2,363.1L800.2,363.9L801.2,364.7L802.2,365.4L803.2,366.2L804.2,367.0L805.2,367.7L806.2,368.5L807.2,369.2L808.2,370.0L809.1,370.7L809.1,370.7L810.1,369.6L811.1,368.6L812.1,367.5L813.1,366.5L814.1,365.5L815.1,364.5L816.1,363.5L817.1,362.6L818.1,361.6L819.1,360.7L820.1,359.9L821.1,359.0L822.1,358.1L823.1,357.2L824.1,356.3L825.1,355.4L826.1,354.5L827.1,353.7L828.1,352.8L829.1,351.9L830.1,351.0L831.1,350.1L832.1,349.2L833.1,348.3L834.1,347.4L835.1,346.5L836.1,345.6L837.1,344.8L838.1,343.9L839.1,343.0L840.1,342.1L841.1,341.1L842.1,340.1L843.1,339.0L844.1,337.8L845.1,336.7L846.1,335.6L847.1,334.4L848.1,333.3L849.1,332.2L850.1,331.1L851.1,329.9L852.1,328.8L853.1,327.7L854.1,326.6L855.1,325.5L856.1,324.4L857.1,323.2L858.1,322.1L859.1,321.0L860.1,319.8L861.1,318.6L862.1,317.5L863.1,316.3L864.1,315.1L865.1,314.0L866.1,312.9L867.1,311.8L868.1,310.8L869.1,309.8L870.1,308.9L871.1,308.0L872.1,307.2L873.1,306.4L874.1,305.6L875.1,304.9L876.1,304.2L877.1,303.7L878.1,303.2L879.1,302.8L880.1,302.4L881.1,302.0L882.1,301.7L883.1,301.5L884.1,301.5L885.1,301.9L886.1,302.6L887.1,303.4L888.1,304.2L889.1,305.1L890.1,306.2L891.1,307.3L892.1,308.3L893.1,309.3L894.1,310.3L895.1,311.3L896.1,312.1L897.1,312.7L898.1,313.0L899.1,313.2L900.1,313.4L901.1,313.5L902.1,313.5L903.1,313.1L904.1,312.2L905.1,311.0L906.1,309.8L907.1,308.6L908.1,307.3L909.1,305.9L910.1,304.4L911.1,302.7L912.1,301.0L913.1,299.3L914.1,297.4L915.1,295.4L916.1,293.4L917.1,291.2L918.1,288.9L919.1,286.5L920.1,283.9L921.1,281.1L922.1,278.2L923.1,274.7L924.1,271.6L925.1,269.4L925.5,268.8L925.5,268.8L926.5,268.7L927.5,268.7L928.5,268.6L929.5,268.5L930.5,268.4L931.5,268.3L932.5,268.2L933.5,268.1L934.5,268.0L935.5,267.8L936.5,267.6L937.5,267.4L938.5,267.3L939.5,267.1L940.5,267.0L941.5,267.0L942.5,267.0L943.5,267.1L944.5,267.1L945.5,267.3L946.5,267.4L947.5,267.6L948.5,267.7L949.5,267.9L950.5,268.1L951.5,268.3L952.5,268.6L953.5,269.0L954.5,269.4L955.5,269.8L956.5,270.3L957.5,270.8L958.5,271.4L959.5,271.9L960.5,272.5L961.5,273.0L962.5,273.6L963.5,274.2L964.5,274.8L965.5,275.5L966.5,276.1L967.5,276.8L968.5,277.5L969.5,278.2L970.5,279.0L971.5,279.7L972.5,280.4L973.5,281.1L974.5,281.9L975.5,282.6L976.5,283.4L977.5,284.2L978.5,285.0L979.5,285.8L980.5,286.6L981.5,287.4L982.5,288.3L983.5,289.1L984.5,289.9L985.5,290.8L986.5,291.6L987.5,292.5L988.5,293.3L989.5,294.2L990.5,295.1L991.5,296.0L992.5,296.9L993.5,297.8L994.5,298.7L995.5,299.6L996.5,300.5L997.5,301.5L998.5,302.4L999.5,303.3L1000.5,304.3L1001.5,305.3L1002.5,306.2L1003.5,307.2L1004.5,308.1L1005.5,309.1L1006.5,310.0L1007.5,311.0L1008.5,311.9L1009.5,312.8L1010.5,313.8L1011.5,314.7L1012.5,315.6L1013.5,316.6L1014.5,317.5L1015.5,318.4L1016.5,319.3L1017.5,320.2L1018.5,321.1L1019.5,322.0L1020.5,322.9L1021.5,323.8L1022.5,324.7L1023.5,325.6L1024.5,326.5L1025.5,327.4L1026.5,328.3L1027.5,329.1L1028.5,330.0L1029.5,330.8L1030.5,331.7L1031.5,332.5L1032.5,333.3L1033.5,334.1L1034.5,334.9L1035.5,335.7L1036.5,336.5L1037.5,337.3L1038.5,338.1L1039.5,338.9L1040.5,339.6L1041.5,340.4L1042.5,341.1L1043.5,341.9L1044.5,342.6L1045.5,343.3L1046.5,344.1L1047.5,344.8L1048.5,345.5L1049.5,346.2L1050.5,346.9L1051.5,347.5L1052.5,348.2L1053.5,348.9L1054.5,349.5L1055.5,350.1L1056.5,350.8L1057.5,351.4L1058.5,352.0L1059.5,352.6L1060.5,353.2L1061.5,353.8L1062.5,354.4L1063.5,355.0L1064.5,355.6L1065.5,356.1L1066.5,356.7L1067.5,357.2L1068.5,357.8L1069.5,358.3L1070.5,358.9L1071.5,359.4L1072.5,359.9L1073.5,360.4L1074.5,361.0L1075.5,361.5L1076.5,362.0L1077.5,362.4L1078.5,362.9L1079.5,363.4L1080.5,363.9L1081.5,364.3L1082.5,364.8L1083.5,365.2L1084.5,365.6L1085.5,366.0L1086.5,366.5L1087.5,366.9L1088.5,367.3L1089.5,367.7L1090.5,368.1L1091.5,368.5L1092.5,368.9L1093.5,369.2L1094.5,369.6L1095.5,370.0L1096.5,370.4L1097.5,370.8L1098.5,371.1L1099.5,371.5L1100.5,371.9L1101.5,372.2L1102.5,372.6L1103.5,372.9L1104.5,373.3L1105.5,373.6L1106.5,374.0L1107.5,374.3L1108.5,374.7L1109.5,375.0L1109.8,375.1L1109.8,389.8L1109.2,389.8L1108.2,389.7L1107.2,389.7L1106.2,389.7L1105.2,389.6L1104.2,389.6L1103.2,389.6L1102.2,389.5L1101.2,389.5L1100.2,389.5L1099.2,389.4L1098.2,389.4L1097.2,389.4L1096.2,389.3L1095.2,389.3L1094.2,389.2L1093.2,389.2L1092.2,389.2L1091.2,389.1L1090.2,389.1L1089.2,389.0L1088.2,389.0L1087.2,389.0L1086.2,388.9L1085.2,388.9L1084.2,388.8L1083.2,388.8L1082.2,388.8L1081.2,388.7L1080.2,388.7L1079.2,388.6L1078.2,388.6L1077.2,388.6L1076.2,388.5L1075.2,388.5L1074.2,388.4L1073.2,388.4L1072.2,388.3L1071.2,388.3L1070.2,388.3L1069.2,388.2L1068.2,388.2L1067.2,388.1L1066.2,388.1L1065.2,388.0L1064.2,388.0L1063.2,387.9L1062.2,387.9L1061.2,387.9L1060.2,387.8L1059.2,387.8L1058.2,387.7L1057.2,387.7L1056.2,387.6L1055.2,387.6L1054.2,387.5L1053.2,387.5L1052.2,387.4L1051.2,387.4L1050.2,387.3L1049.2,387.3L1048.2,387.3L1047.2,387.2L1046.2,387.2L1045.2,387.1L1044.2,387.1L1043.2,387.0L1042.2,387.0L1041.2,386.9L1040.2,386.9L1039.2,386.8L1038.2,386.8L1037.2,386.7L1036.2,386.7L1035.2,386.6L1034.2,386.5L1033.2,386.5L1032.2,386.4L1031.2,386.4L1030.2,386.3L1029.2,386.3L1028.2,386.2L1027.2,386.1L1026.2,386.1L1025.2,386.0L1024.2,386.0L1023.2,385.9L1022.2,385.8L1021.2,385.8L1020.2,385.7L1019.2,385.6L1018.2,385.5L1017.2,385.5L1016.2,385.4L1015.2,385.3L1014.2,385.3L1013.2,385.2L1012.2,385.1L1011.2,385.1L1010.2,385.0L1009.2,384.9L1008.2,384.9L1007.2,384.8L1006.2,384.7L1005.2,384.7L1004.2,384.6L1003.2,384.5L1002.2,384.5L1001.2,384.4L1000.2,384.4L999.2,384.3L998.2,384.3L997.2,384.2L996.2,384.1L995.2,384.1L994.2,384.0L993.2,384.0L992.2,383.9L991.2,383.9L990.2,383.8L989.2,383.8L988.2,383.7L987.2,383.7L986.2,383.6L985.2,383.6L984.2,383.5L983.2,383.5L982.2,383.4L981.2,383.4L980.2,383.3L979.2,383.3L978.2,383.2L977.2,383.2L976.2,383.1L975.2,383.1L974.2,383.1L973.2,383.0L972.2,383.0L971.2,382.9L970.2,382.9L969.2,382.9L968.2,382.8L967.2,382.8L966.2,382.8L965.2,382.7L964.2,382.7L963.2,382.7L962.2,382.6L961.2,382.6L960.2,382.6L959.2,382.6L958.2,382.5L957.2,382.5L956.2,382.5L955.2,382.5L954.2,382.5L953.2,382.5L952.2,382.5L951.2,382.6L950.2,382.6L949.2,382.6L948.2,382.7L947.2,382.8L946.2,382.8L945.2,382.9L944.2,382.9L943.2,383.0L942.2,383.1L941.2,383.1L940.2,383.2L939.2,383.2L938.2,383.2L937.2,383.2L936.2,383.3L935.2,383.3L934.2,383.3L933.2,383.3L932.2,383.3L931.2,383.4L930.2,383.4L929.2,383.4L928.2,383.4L927.2,383.5L926.2,383.5L925.2,383.7L924.2,383.8L923.2,384.0L922.2,384.2L921.2,384.4L920.2,384.6L919.2,384.8L918.2,385.0L917.2,385.1L916.2,385.2L915.2,385.4L914.2,385.5L913.2,385.6L912.2,385.8L911.2,385.9L910.2,386.0L909.2,386.1L908.2,386.2L907.2,386.3L906.2,386.4L905.2,386.4L904.2,386.5L903.2,386.6L902.2,386.6L901.2,386.7L900.2,386.8L899.2,386.8L898.2,386.9L897.2,386.9L896.2,387.0L895.2,387.0L894.2,387.1L893.2,387.1L892.2,387.2L891.2,387.2L890.2,387.3L889.2,387.3L888.2,387.4L887.2,387.4L886.2,387.4L885.2,387.5L884.2,387.5L883.2,387.6L882.2,387.6L881.2,387.6L880.2,387.7L879.2,387.7L878.2,387.8L877.2,387.8L876.2,387.8L875.2,387.9L874.2,387.9L873.2,388.0L872.2,388.0L871.2,388.0L870.2,388.1L869.2,388.1L868.2,388.2L867.2,388.2L866.2,388.3L865.2,388.3L864.2,388.4L863.2,388.4L862.2,388.5L861.2,388.5L860.2,388.6L859.2,388.6L858.2,388.7L857.2,388.7L856.2,388.8L855.2,388.9L854.2,388.9L853.2,389.0L852.2,389.1L851.2,389.1L850.2,389.2L849.2,389.3L848.2,389.3L847.2,389.4L846.2,389.5L845.2,389.6L844.2,389.6L843.2,389.7L842.2,389.8L841.2,389.8L840.2,389.9L839.2,390.0L838.2,390.1L837.2,390.1L836.2,390.2L835.2,390.3L834.2,390.3L833.2,390.4L832.2,390.5L831.2,390.5L830.2,390.6L829.2,390.6L828.2,390.7L827.2,390.8L826.2,390.8L825.2,390.9L824.2,390.9L823.2,391.0L822.2,391.0L821.2,391.0L820.2,391.1L819.2,391.1L818.2,391.2L817.2,391.2L816.2,391.2L815.2,391.2L814.2,391.3L813.2,391.3L812.2,391.3L811.2,391.3L810.2,391.3L809.2,391.3L808.2,391.3L807.2,391.3L806.2,391.3L805.2,391.3L804.2,391.3L803.2,391.2L802.2,391.2L801.2,391.2L800.2,391.2L799.2,391.2L798.2,391.1L797.2,391.1L796.2,391.1L795.2,391.0L794.2,391.0L793.2,390.9L792.2,390.9L791.2,390.8L790.2,390.8L789.2,390.7L788.2,390.7L787.2,390.6L786.2,390.6L785.2,390.5L784.2,390.4L783.2,390.4L782.2,390.3L781.2,390.2L780.2,390.2L779.2,390.1L778.2,390.0L777.2,389.9L776.2,389.8L775.2,389.8L774.2,389.7L773.2,389.6L772.2,389.5L771.2,389.4L770.2,389.3L769.2,389.2L768.2,389.1L767.2,389.0L766.2,388.9Z" fill="#0071bc"/>
<path d="M766.2,343.9L767.2,344.7L768.2,345.4L769.2,346.2L770.2,346.9L771.2,347.6L772.2,348.4L773.2,349.1L774.2,349.8L775.2,350.6L776.2,351.3L777.2,352.0L778.2,352.7L779.2,353.4L780.2,354.2L781.2,354.9L782.2,355.6L783.2,356.3L784.2,356.9L785.2,357.6L786.2,358.3L787.2,359.0L788.2,359.7L789.2,360.3L790.2,361.0L791.2,361.7L792.2,362.3L793.2,363.0L794.2,363.7L795.2,364.3L796.2,365.0L797.2,365.6L798.2,366.2L799.2,366.9L800.2,367.5L801.2,368.1L802.2,368.8L803.2,369.4L804.2,370.0L805.2,370.6L806.2,371.2L807.2,371.9L808.2,372.5L809.1,373.0L809.1,373.0L810.1,372.2L811.1,371.5L812.1,370.7L813.1,370.0L814.1,369.3L815.1,368.6L816.1,367.9L817.1,367.3L818.1,366.7L819.1,366.1L820.1,365.5L821.1,364.9L822.1,364.3L823.1,363.7L824.1,363.1L825.1,362.6L826.1,362.0L827.1,361.4L828.1,360.9L829.1,360.4L830.1,359.8L831.1,359.3L832.1,358.7L833.1,358.2L834.1,357.6L835.1,357.1L836.1,356.5L837.1,356.0L838.1,355.4L839.1,354.9L840.1,354.3L841.1,353.7L842.1,353.1L843.1,352.5L844.1,351.9L845.1,351.3L846.1,350.7L847.1,350.1L848.1,349.5L849.1,348.9L850.1,348.3L851.1,347.7L852.1,347.1L853.1,346.5L854.1,345.8L855.1,345.2L856.1,344.6L857.1,344.0L858.1,343.4L859.1,342.8L860.1,342.2L861.1,341.5L862.1,340.9L863.1,340.2L864.1,339.6L865.1,339.0L866.1,338.4L867.1,337.8L868.1,337.3L869.1,336.9L870.1,336.5L871.1,336.1L872.1,335.7L873.1,335.3L874.1,335.0L875.1,334.7L876.1,334.5L877.1,334.4L878.1,334.4L879.1,334.5L880.1,334.6L881.1,334.8L882.1,335.0L883.1,335.3L884.1,335.8L885.1,336.6L886.1,337.4L887.1,338.4L888.1,339.3L889.1,340.3L890.1,341.5L891.1,342.7L892.1,343.9L893.1,344.9L894.1,346.0L895.1,347.0L896.1,347.9L897.1,348.6L898.1,349.0L899.1,349.3L900.1,349.6L901.1,349.8L902.1,350.0L903.1,350.1L904.1,350.1L905.1,349.9L906.1,349.6L907.1,349.2L908.1,348.7L909.1,348.2L910.1,347.6L911.1,347.0L912.1,346.1L913.1,345.2L914.1,344.2L915.1,343.2L916.1,342.1L917.1,341.2L918.1,340.3L919.1,339.4L920.1,338.5L921.1,337.7L922.1,336.9L923.1,336.1L924.1,335.3L925.1,334.5L925.3,334.3L925.3,334.3L926.3,334.3L927.3,334.4L928.3,334.4L929.3,334.4L930.3,334.5L931.3,334.6L932.3,334.6L933.3,334.7L934.3,334.8L935.3,334.9L936.3,335.0L937.3,335.1L938.3,335.2L939.3,335.3L940.3,335.5L941.3,335.6L942.3,335.7L943.3,335.9L944.3,336.1L945.3,336.2L946.3,336.4L947.3,336.6L948.3,336.8L949.3,337.1L950.3,337.4L951.3,337.7L952.3,338.0L953.3,338.4L954.3,338.8L955.3,339.1L956.3,339.5L957.3,339.9L958.3,340.3L959.3,340.7L960.3,341.1L961.3,341.5L962.3,341.9L963.3,342.4L964.3,342.8L965.3,343.3L966.3,343.7L967.3,344.2L968.3,344.6L969.3,345.1L970.3,345.5L971.3,346.0L972.3,346.5L973.3,347.0L974.3,347.4L975.3,347.9L976.3,348.4L977.3,348.9L978.3,349.4L979.3,349.9L980.3,350.4L981.3,350.9L982.3,351.4L983.3,351.9L984.3,352.4L985.3,352.8L986.3,353.3L987.3,353.8L988.3,354.2L989.3,354.7L990.3,355.1L991.3,355.6L992.3,356.0L993.3,356.4L994.3,356.9L995.3,357.3L996.3,357.8L997.3,358.2L998.3,358.6L999.3,359.1L1000.3,359.5L1001.3,360.0L1002.3,360.4L1003.3,360.9L1004.3,361.4L1005.3,361.8L1006.3,362.3L1007.3,362.8L1008.3,363.2L1009.3,363.7L1010.3,364.2L1011.3,364.6L1012.3,365.1L1013.3,365.5L1014.3,365.9L1015.3,366.3L1016.3,366.7L1017.3,367.0L1018.3,367.4L1019.3,367.8L1020.3,368.1L1021.3,368.5L1022.3,368.8L1023.3,369.1L1024.3,369.4L1025.3,369.8L1026.3,370.1L1027.3,370.4L1028.3,370.7L1029.3,371.0L1030.3,371.3L1031.3,371.5L1032.3,371.8L1033.3,372.1L1034.3,372.4L1035.3,372.7L1036.3,372.9L1037.3,373.2L1038.3,373.4L1039.3,373.7L1040.3,373.9L1041.3,374.2L1042.3,374.4L1043.3,374.7L1044.3,374.9L1045.3,375.1L1046.3,375.4L1047.3,375.6L1048.3,375.8L1049.3,376.0L1050.3,376.2L1051.3,376.4L1052.3,376.7L1053.3,376.9L1054.3,377.1L1055.3,377.3L1056.3,377.5L1057.3,377.7L1058.3,377.8L1059.3,378.0L1060.3,378.2L1061.3,378.4L1062.3,378.6L1063.3,378.8L1064.3,379.0L1065.3,379.2L1066.3,379.3L1067.3,379.5L1068.3,379.7L1069.3,379.9L1070.3,380.1L1071.3,380.2L1072.3,380.4L1073.3,380.6L1074.3,380.7L1075.3,380.9L1076.3,381.1L1077.3,381.2L1078.3,381.4L1079.3,381.6L1080.3,381.7L1081.3,381.9L1082.3,382.0L1083.3,382.2L1084.3,382.3L1085.3,382.5L1086.3,382.6L1087.3,382.8L1088.3,382.9L1089.3,383.1L1090.3,383.2L1091.3,383.3L1092.3,383.5L1093.3,383.6L1094.3,383.8L1095.3,383.9L1096.3,384.1L1097.3,384.2L1098.3,384.3L1099.3,384.5L1100.3,384.6L1101.3,384.8L1102.3,384.9L1103.3,385.0L1104.3,385.2L1105.3,385.3L1106.3,385.4L1107.3,385.6L1108.3,385.7L1109.3,385.8L1109.8,385.9L1109.8,389.8L1109.2,389.8L1108.2,389.7L1107.2,389.7L1106.2,389.7L1105.2,389.6L1104.2,389.6L1103.2,389.6L1102.2,389.5L1101.2,389.5L1100.2,389.5L1099.2,389.4L1098.2,389.4L1097.2,389.4L1096.2,389.3L1095.2,389.3L1094.2,389.2L1093.2,389.2L1092.2,389.2L1091.2,389.1L1090.2,389.1L1089.2,389.0L1088.2,389.0L1087.2,389.0L1086.2,388.9L1085.2,388.9L1084.2,388.8L1083.2,388.8L1082.2,388.8L1081.2,388.7L1080.2,388.7L1079.2,388.6L1078.2,388.6L1077.2,388.6L1076.2,388.5L1075.2,388.5L1074.2,388.4L1073.2,388.4L1072.2,388.3L1071.2,388.3L1070.2,388.3L1069.2,388.2L1068.2,388.2L1067.2,388.1L1066.2,388.1L1065.2,388.0L1064.2,388.0L1063.2,387.9L1062.2,387.9L1061.2,387.9L1060.2,387.8L1059.2,387.8L1058.2,387.7L1057.2,387.7L1056.2,387.6L1055.2,387.6L1054.2,387.5L1053.2,387.5L1052.2,387.4L1051.2,387.4L1050.2,387.3L1049.2,387.3L1048.2,387.3L1047.2,387.2L1046.2,387.2L1045.2,387.1L1044.2,387.1L1043.2,387.0L1042.2,387.0L1041.2,386.9L1040.2,386.9L1039.2,386.8L1038.2,386.8L1037.2,386.7L1036.2,386.7L1035.2,386.6L1034.2,386.5L1033.2,386.5L1032.2,386.4L1031.2,386.4L1030.2,386.3L1029.2,386.3L1028.2,386.2L1027.2,386.1L1026.2,386.1L1025.2,386.0L1024.2,386.0L1023.2,385.9L1022.2,385.8L1021.2,385.8L1020.2,385.7L1019.2,385.6L1018.2,385.5L1017.2,385.5L1016.2,385.4L1015.2,385.3L1014.2,385.3L1013.2,385.2L1012.2,385.1L1011.2,385.1L1010.2,385.0L1009.2,384.9L1008.2,384.9L1007.2,384.8L1006.2,384.7L1005.2,384.7L1004.2,384.6L1003.2,384.5L1002.2,384.5L1001.2,384.4L1000.2,384.4L999.2,384.3L998.2,384.3L997.2,384.2L996.2,384.1L995.2,384.1L994.2,384.0L993.2,384.0L992.2,383.9L991.2,383.9L990.2,383.8L989.2,383.8L988.2,383.7L987.2,383.7L986.2,383.6L985.2,383.6L984.2,383.5L983.2,383.5L982.2,383.4L981.2,383.4L980.2,383.3L979.2,383.3L978.2,383.2L977.2,383.2L976.2,383.1L975.2,383.1L974.2,383.1L973.2,383.0L972.2,383.0L971.2,382.9L970.2,382.9L969.2,382.9L968.2,382.8L967.2,382.8L966.2,382.8L965.2,382.7L964.2,382.7L963.2,382.7L962.2,382.6L961.2,382.6L960.2,382.6L959.2,382.6L958.2,382.5L957.2,382.5L956.2,382.5L955.2,382.5L954.2,382.5L953.2,382.5L952.2,382.5L951.2,382.6L950.2,382.6L949.2,382.6L948.2,382.7L947.2,382.8L946.2,382.8L945.2,382.9L944.2,382.9L943.2,383.0L942.2,383.1L941.2,383.1L940.2,383.2L939.2,383.2L938.2,383.2L937.2,383.2L936.2,383.3L935.2,383.3L934.2,383.3L933.2,383.3L932.2,383.3L931.2,383.4L930.2,383.4L929.2,383.4L928.2,383.4L927.2,383.5L926.2,383.5L925.2,383.7L924.2,383.8L923.2,384.0L922.2,384.2L921.2,384.4L920.2,384.6L919.2,384.8L918.2,385.0L917.2,385.1L916.2,385.2L915.2,385.4L914.2,385.5L913.2,385.6L912.2,385.8L911.2,385.9L910.2,386.0L909.2,386.1L908.2,386.2L907.2,386.3L906.2,386.4L905.2,386.4L904.2,386.5L903.2,386.6L902.2,386.6L901.2,386.7L900.2,386.8L899.2,386.8L898.2,386.9L897.2,386.9L896.2,387.0L895.2,387.0L894.2,387.1L893.2,387.1L892.2,387.2L891.2,387.2L890.2,387.3L889.2,387.3L888.2,387.4L887.2,387.4L886.2,387.4L885.2,387.5L884.2,387.5L883.2,387.6L882.2,387.6L881.2,387.6L880.2,387.7L879.2,387.7L878.2,387.8L877.2,387.8L876.2,387.8L875.2,387.9L874.2,387.9L873.2,388.0L872.2,388.0L871.2,388.0L870.2,388.1L869.2,388.1L868.2,388.2L867.2,388.2L866.2,388.3L865.2,388.3L864.2,388.4L863.2,388.4L862.2,388.5L861.2,388.5L860.2,388.6L859.2,388.6L858.2,388.7L857.2,388.7L856.2,388.8L855.2,388.9L854.2,388.9L853.2,389.0L852.2,389.1L851.2,389.1L850.2,389.2L849.2,389.3L848.2,389.3L847.2,389.4L846.2,389.5L845.2,389.6L844.2,389.6L843.2,389.7L842.2,389.8L841.2,389.8L840.2,389.9L839.2,390.0L838.2,390.1L837.2,390.1L836.2,390.2L835.2,390.3L834.2,390.3L833.2,390.4L832.2,390.5L831.2,390.5L830.2,390.6L829.2,390.6L828.2,390.7L827.2,390.8L826.2,390.8L825.2,390.9L824.2,390.9L823.2,391.0L822.2,391.0L821.2,391.0L820.2,391.1L819.2,391.1L818.2,391.2L817.2,391.2L816.2,391.2L815.2,391.2L814.2,391.3L813.2,391.3L812.2,391.3L811.2,391.3L810.2,391.3L809.2,391.3L808.2,391.3L807.2,391.3L806.2,391.3L805.2,391.3L804.2,391.3L803.2,391.2L802.2,391.2L801.2,391.2L800.2,391.2L799.2,391.2L798.2,391.1L797.2,391.1L796.2,391.1L795.2,391.0L794.2,391.0L793.2,390.9L792.2,390.9L791.2,390.8L790.2,390.8L789.2,390.7L788.2,390.7L787.2,390.6L786.2,390.6L785.2,390.5L784.2,390.4L783.2,390.4L782.2,390.3L781.2,390.2L780.2,390.2L779.2,390.1L778.2,390.0L777.2,389.9L776.2,389.8L775.2,389.8L774.2,389.7L773.2,389.6L772.2,389.5L771.2,389.4L770.2,389.3L769.2,389.2L768.2,389.1L767.2,389.0L766.2,388.9Z" fill="#4a9ad1"/>
<path d="M766.2,348.1L767.2,348.8L768.2,349.5L769.2,350.2L770.2,350.9L771.2,351.6L772.2,352.3L773.2,353.0L774.2,353.7L775.2,354.4L776.2,355.1L777.2,355.7L778.2,356.4L779.2,357.1L780.2,357.7L781.2,358.4L782.2,359.0L783.2,359.7L784.2,360.3L785.2,361.0L786.2,361.6L787.2,362.2L788.2,362.8L789.2,363.5L790.2,364.1L791.2,364.7L792.2,365.3L793.2,365.9L794.2,366.5L795.2,367.1L796.2,367.7L797.2,368.3L798.2,368.9L799.2,369.5L800.2,370.0L801.2,370.6L802.2,371.2L803.2,371.7L804.2,372.3L805.2,372.9L806.2,373.4L807.2,374.0L808.2,374.5L809.1,375.0L809.1,375.0L810.1,374.3L811.1,373.6L812.1,373.0L813.1,372.3L814.1,371.7L815.1,371.1L816.1,370.5L817.1,370.0L818.1,369.5L819.1,368.9L820.1,368.4L821.1,367.9L822.1,367.4L823.1,367.0L824.1,366.5L825.1,366.0L826.1,365.5L827.1,365.1L828.1,364.6L829.1,364.2L830.1,363.7L831.1,363.3L832.1,362.9L833.1,362.4L834.1,362.0L835.1,361.6L836.1,361.2L837.1,360.8L838.1,360.4L839.1,360.1L840.1,359.7L841.1,359.3L842.1,358.9L843.1,358.4L844.1,358.0L845.1,357.6L846.1,357.1L847.1,356.7L848.1,356.2L849.1,355.8L850.1,355.3L851.1,354.9L852.1,354.4L853.1,354.0L854.1,353.5L855.1,353.0L856.1,352.6L857.1,352.1L858.1,351.6L859.1,351.1L860.1,350.5L861.1,350.0L862.1,349.4L863.1,348.9L864.1,348.3L865.1,347.8L866.1,347.2L867.1,346.8L868.1,346.3L869.1,346.0L870.1,345.7L871.1,345.4L872.1,345.1L873.1,344.8L874.1,344.6L875.1,344.4L876.1,344.3L877.1,344.2L878.1,344.2L879.1,344.3L880.1,344.4L881.1,344.5L882.1,344.6L883.1,344.8L884.1,345.3L885.1,345.9L886.1,346.5L887.1,347.3L888.1,348.0L889.1,348.8L890.1,349.7L891.1,350.6L892.1,351.5L893.1,352.3L894.1,353.1L895.1,353.8L896.1,354.5L897.1,354.9L898.1,355.2L899.1,355.4L900.1,355.6L901.1,355.8L902.1,355.9L903.1,356.0L904.1,356.0L905.1,355.9L906.1,355.6L907.1,355.2L908.1,354.8L909.1,354.3L910.1,353.8L911.1,353.2L912.1,352.5L913.1,351.7L914.1,350.8L915.1,349.9L916.1,348.9L917.1,348.0L918.1,347.2L919.1,346.3L920.1,345.5L921.1,344.7L922.1,343.8L923.1,343.0L924.1,342.1L925.1,341.3L925.3,341.1L925.3,341.1L926.3,341.1L927.3,341.2L928.3,341.2L929.3,341.2L930.3,341.3L931.3,341.4L932.3,341.4L933.3,341.5L934.3,341.6L935.3,341.7L936.3,341.8L937.3,341.9L938.3,342.0L939.3,342.1L940.3,342.2L941.3,342.4L942.3,342.5L943.3,342.6L944.3,342.7L945.3,342.9L946.3,343.0L947.3,343.2L948.3,343.3L949.3,343.5L950.3,343.7L951.3,343.9L952.3,344.2L953.3,344.4L954.3,344.7L955.3,345.0L956.3,345.3L957.3,345.5L958.3,345.8L959.3,346.1L960.3,346.4L961.3,346.8L962.3,347.1L963.3,347.4L964.3,347.8L965.3,348.1L966.3,348.5L967.3,348.8L968.3,349.2L969.3,349.5L970.3,349.9L971.3,350.2L972.3,350.6L973.3,351.0L974.3,351.3L975.3,351.7L976.3,352.1L977.3,352.5L978.3,352.9L979.3,353.3L980.3,353.6L981.3,354.0L982.3,354.4L983.3,354.8L984.3,355.2L985.3,355.5L986.3,355.9L987.3,356.3L988.3,356.6L989.3,357.0L990.3,357.4L991.3,357.7L992.3,358.1L993.3,358.5L994.3,358.8L995.3,359.2L996.3,359.6L997.3,359.9L998.3,360.3L999.3,360.7L1000.3,361.1L1001.3,361.4L1002.3,361.8L1003.3,362.2L1004.3,362.6L1005.3,363.0L1006.3,363.4L1007.3,363.8L1008.3,364.2L1009.3,364.6L1010.3,364.9L1011.3,365.3L1012.3,365.7L1013.3,366.1L1014.3,366.5L1015.3,366.8L1016.3,367.2L1017.3,367.5L1018.3,367.9L1019.3,368.2L1020.3,368.5L1021.3,368.9L1022.3,369.2L1023.3,369.5L1024.3,369.8L1025.3,370.2L1026.3,370.5L1027.3,370.8L1028.3,371.1L1029.3,371.4L1030.3,371.7L1031.3,371.9L1032.3,372.2L1033.3,372.5L1034.3,372.8L1035.3,373.0L1036.3,373.3L1037.3,373.6L1038.3,373.8L1039.3,374.1L1040.3,374.3L1041.3,374.6L1042.3,374.8L1043.3,375.1L1044.3,375.3L1045.3,375.5L1046.3,375.8L1047.3,376.0L1048.3,376.2L1049.3,376.4L1050.3,376.6L1051.3,376.9L1052.3,377.1L1053.3,377.3L1054.3,377.5L1055.3,377.7L1056.3,377.9L1057.3,378.1L1058.3,378.3L1059.3,378.4L1060.3,378.6L1061.3,378.8L1062.3,379.0L1063.3,379.2L1064.3,379.4L1065.3,379.5L1066.3,379.7L1067.3,379.9L1068.3,380.1L1069.3,380.2L1070.3,380.4L1071.3,380.6L1072.3,380.7L1073.3,380.9L1074.3,381.1L1075.3,381.2L1076.3,381.4L1077.3,381.5L1078.3,381.7L1079.3,381.9L1080.3,382.0L1081.3,382.2L1082.3,382.3L1083.3,382.5L1084.3,382.6L1085.3,382.8L1086.3,382.9L1087.3,383.1L1088.3,383.2L1089.3,383.4L1090.3,383.5L1091.3,383.6L1092.3,383.8L1093.3,383.9L1094.3,384.1L1095.3,384.2L1096.3,384.4L1097.3,384.5L1098.3,384.6L1099.3,384.8L1100.3,384.9L1101.3,385.1L1102.3,385.2L1103.3,385.3L1104.3,385.5L1105.3,385.6L1106.3,385.7L1107.3,385.9L1108.3,386.0L1109.3,386.1L1109.8,386.2L1109.8,389.8L1109.2,389.8L1108.2,389.7L1107.2,389.7L1106.2,389.7L1105.2,389.6L1104.2,389.6L1103.2,389.6L1102.2,389.5L1101.2,389.5L1100.2,389.5L1099.2,389.4L1098.2,389.4L1097.2,389.4L1096.2,389.3L1095.2,389.3L1094.2,389.2L1093.2,389.2L1092.2,389.2L1091.2,389.1L1090.2,389.1L1089.2,389.0L1088.2,389.0L1087.2,389.0L1086.2,388.9L1085.2,388.9L1084.2,388.8L1083.2,388.8L1082.2,388.8L1081.2,388.7L1080.2,388.7L1079.2,388.6L1078.2,388.6L1077.2,388.6L1076.2,388.5L1075.2,388.5L1074.2,388.4L1073.2,388.4L1072.2,388.3L1071.2,388.3L1070.2,388.3L1069.2,388.2L1068.2,388.2L1067.2,388.1L1066.2,388.1L1065.2,388.0L1064.2,388.0L1063.2,387.9L1062.2,387.9L1061.2,387.9L1060.2,387.8L1059.2,387.8L1058.2,387.7L1057.2,387.7L1056.2,387.6L1055.2,387.6L1054.2,387.5L1053.2,387.5L1052.2,387.4L1051.2,387.4L1050.2,387.3L1049.2,387.3L1048.2,387.3L1047.2,387.2L1046.2,387.2L1045.2,387.1L1044.2,387.1L1043.2,387.0L1042.2,387.0L1041.2,386.9L1040.2,386.9L1039.2,386.8L1038.2,386.8L1037.2,386.7L1036.2,386.7L1035.2,386.6L1034.2,386.5L1033.2,386.5L1032.2,386.4L1031.2,386.4L1030.2,386.3L1029.2,386.3L1028.2,386.2L1027.2,386.1L1026.2,386.1L1025.2,386.0L1024.2,386.0L1023.2,385.9L1022.2,385.8L1021.2,385.8L1020.2,385.7L1019.2,385.6L1018.2,385.5L1017.2,385.5L1016.2,385.4L1015.2,385.3L1014.2,385.3L1013.2,385.2L1012.2,385.1L1011.2,385.1L1010.2,385.0L1009.2,384.9L1008.2,384.9L1007.2,384.8L1006.2,384.7L1005.2,384.7L1004.2,384.6L1003.2,384.5L1002.2,384.5L1001.2,384.4L1000.2,384.4L999.2,384.3L998.2,384.3L997.2,384.2L996.2,384.1L995.2,384.1L994.2,384.0L993.2,384.0L992.2,383.9L991.2,383.9L990.2,383.8L989.2,383.8L988.2,383.7L987.2,383.7L986.2,383.6L985.2,383.6L984.2,383.5L983.2,383.5L982.2,383.4L981.2,383.4L980.2,383.3L979.2,383.3L978.2,383.2L977.2,383.2L976.2,383.1L975.2,383.1L974.2,383.1L973.2,383.0L972.2,383.0L971.2,382.9L970.2,382.9L969.2,382.9L968.2,382.8L967.2,382.8L966.2,382.8L965.2,382.7L964.2,382.7L963.2,382.7L962.2,382.6L961.2,382.6L960.2,382.6L959.2,382.6L958.2,382.5L957.2,382.5L956.2,382.5L955.2,382.5L954.2,382.5L953.2,382.5L952.2,382.5L951.2,382.6L950.2,382.6L949.2,382.6L948.2,382.7L947.2,382.8L946.2,382.8L945.2,382.9L944.2,382.9L943.2,383.0L942.2,383.1L941.2,383.1L940.2,383.2L939.2,383.2L938.2,383.2L937.2,383.2L936.2,383.3L935.2,383.3L934.2,383.3L933.2,383.3L932.2,383.3L931.2,383.4L930.2,383.4L929.2,383.4L928.2,383.4L927.2,383.5L926.2,383.5L925.2,383.7L924.2,383.8L923.2,384.0L922.2,384.2L921.2,384.4L920.2,384.6L919.2,384.8L918.2,385.0L917.2,385.1L916.2,385.2L915.2,385.4L914.2,385.5L913.2,385.6L912.2,385.8L911.2,385.9L910.2,386.0L909.2,386.1L908.2,386.2L907.2,386.3L906.2,386.4L905.2,386.4L904.2,386.5L903.2,386.6L902.2,386.6L901.2,386.7L900.2,386.8L899.2,386.8L898.2,386.9L897.2,386.9L896.2,387.0L895.2,387.0L894.2,387.1L893.2,387.1L892.2,387.2L891.2,387.2L890.2,387.3L889.2,387.3L888.2,387.4L887.2,387.4L886.2,387.4L885.2,387.5L884.2,387.5L883.2,387.6L882.2,387.6L881.2,387.6L880.2,387.7L879.2,387.7L878.2,387.8L877.2,387.8L876.2,387.8L875.2,387.9L874.2,387.9L873.2,388.0L872.2,388.0L871.2,388.0L870.2,388.1L869.2,388.1L868.2,388.2L867.2,388.2L866.2,388.3L865.2,388.3L864.2,388.4L863.2,388.4L862.2,388.5L861.2,388.5L860.2,388.6L859.2,388.6L858.2,388.7L857.2,388.7L856.2,388.8L855.2,388.9L854.2,388.9L853.2,389.0L852.2,389.1L851.2,389.1L850.2,389.2L849.2,389.3L848.2,389.3L847.2,389.4L846.2,389.5L845.2,389.6L844.2,389.6L843.2,389.7L842.2,389.8L841.2,389.8L840.2,389.9L839.2,390.0L838.2,390.1L837.2,390.1L836.2,390.2L835.2,390.3L834.2,390.3L833.2,390.4L832.2,390.5L831.2,390.5L830.2,390.6L829.2,390.6L828.2,390.7L827.2,390.8L826.2,390.8L825.2,390.9L824.2,390.9L823.2,391.0L822.2,391.0L821.2,391.0L820.2,391.1L819.2,391.1L818.2,391.2L817.2,391.2L816.2,391.2L815.2,391.2L814.2,391.3L813.2,391.3L812.2,391.3L811.2,391.3L810.2,391.3L809.2,391.3L808.2,391.3L807.2,391.3L806.2,391.3L805.2,391.3L804.2,391.3L803.2,391.2L802.2,391.2L801.2,391.2L800.2,391.2L799.2,391.2L798.2,391.1L797.2,391.1L796.2,391.1L795.2,391.0L794.2,391.0L793.2,390.9L792.2,390.9L791.2,390.8L790.2,390.8L789.2,390.7L788.2,390.7L787.2,390.6L786.2,390.6L785.2,390.5L784.2,390.4L783.2,390.4L782.2,390.3L781.2,390.2L780.2,390.2L779.2,390.1L778.2,390.0L777.2,389.9L776.2,389.8L775.2,389.8L774.2,389.7L773.2,389.6L772.2,389.5L771.2,389.4L770.2,389.3L769.2,389.2L768.2,389.1L767.2,389.0L766.2,388.9Z" fill="#9ac6e4"/>
<path d="M766.2,388.4L767.2,388.5L768.2,388.6L769.2,388.7L770.2,388.8L771.2,388.9L772.2,389.0L773.2,389.1L774.2,389.2L775.2,389.3L776.2,389.3L777.2,389.4L778.2,389.5L779.2,389.6L780.2,389.7L781.2,389.7L782.2,389.8L783.2,389.9L784.2,389.9L785.2,390.0L786.2,390.1L787.2,390.1L788.2,390.2L789.2,390.2L790.2,390.3L791.2,390.3L792.2,390.4L793.2,390.4L794.2,390.5L795.2,390.5L796.2,390.6L797.2,390.6L798.2,390.6L799.2,390.7L800.2,390.7L801.2,390.7L802.2,390.7L803.2,390.7L804.2,390.8L805.2,390.8L806.2,390.8L807.2,390.8L808.2,390.8L809.2,390.8L810.2,390.8L811.2,390.8L812.2,390.8L813.2,390.8L814.2,390.8L815.2,390.7L816.2,390.7L817.2,390.7L818.2,390.7L819.2,390.6L820.2,390.6L821.2,390.5L822.2,390.5L823.2,390.5L824.2,390.4L825.2,390.4L826.2,390.3L827.2,390.3L828.2,390.2L829.2,390.1L830.2,390.1L831.2,390.0L832.2,390.0L833.2,389.9L834.2,389.8L835.2,389.8L836.2,389.7L837.2,389.6L838.2,389.6L839.2,389.5L840.2,389.4L841.2,389.3L842.2,389.3L843.2,389.2L844.2,389.1L845.2,389.1L846.2,389.0L847.2,388.9L848.2,388.8L849.2,388.8L850.2,388.7L851.2,388.6L852.2,388.6L853.2,388.5L854.2,388.4L855.2,388.4L856.2,388.3L857.2,388.2L858.2,388.2L859.2,388.1L860.2,388.1L861.2,388.0L862.2,388.0L863.2,387.9L864.2,387.9L865.2,387.8L866.2,387.8L867.2,387.7L868.2,387.7L869.2,387.6L870.2,387.6L871.2,387.5L872.2,387.5L873.2,387.5L874.2,387.4L875.2,387.4L876.2,387.3L877.2,387.3L878.2,387.3L879.2,387.2L880.2,387.2L881.2,387.1L882.2,387.1L883.2,387.1L884.2,387.0L885.2,387.0L886.2,386.9L887.2,386.9L888.2,386.9L889.2,386.8L890.2,386.8L891.2,386.7L892.2,386.7L893.2,386.6L894.2,386.6L895.2,386.5L896.2,386.5L897.2,386.4L898.2,386.4L899.2,386.3L900.2,386.3L901.2,386.2L902.2,386.1L903.2,386.1L904.2,386.0L905.2,385.9L906.2,385.9L907.2,385.8L908.2,385.7L909.2,385.6L910.2,385.5L911.2,385.4L912.2,385.3L913.2,385.1L914.2,385.0L915.2,384.9L916.2,384.7L917.2,384.6L918.2,384.5L919.2,384.3L920.2,384.1L921.2,383.9L922.2,383.7L923.2,383.5L924.2,383.3L925.2,383.2L926.2,383.0L927.2,383.0L928.2,382.9L929.2,382.9L930.2,382.9L931.2,382.9L932.2,382.8L933.2,382.8L934.2,382.8L935.2,382.8L936.2,382.8L937.2,382.7L938.2,382.7L939.2,382.7L940.2,382.7L941.2,382.6L942.2,382.6L943.2,382.5L944.2,382.4L945.2,382.4L946.2,382.3L947.2,382.3L948.2,382.2L949.2,382.1L950.2,382.1L951.2,382.1L952.2,382.0L953.2,382.0L954.2,382.0L955.2,382.0L956.2,382.0L957.2,382.0L958.2,382.0L959.2,382.1L960.2,382.1L961.2,382.1L962.2,382.1L963.2,382.2L964.2,382.2L965.2,382.2L966.2,382.3L967.2,382.3L968.2,382.3L969.2,382.4L970.2,382.4L971.2,382.4L972.2,382.5L973.2,382.5L974.2,382.6L975.2,382.6L976.2,382.6L977.2,382.7L978.2,382.7L979.2,382.8L980.2,382.8L981.2,382.9L982.2,382.9L983.2,383.0L984.2,383.0L985.2,383.1L986.2,383.1L987.2,383.2L988.2,383.2L989.2,383.3L990.2,383.3L991.2,383.4L992.2,383.4L993.2,383.5L994.2,383.5L995.2,383.6L996.2,383.6L997.2,383.7L998.2,383.8L999.2,383.8L1000.2,383.9L1001.2,383.9L1002.2,384.0L1003.2,384.0L1004.2,384.1L1005.2,384.2L1006.2,384.2L1007.2,384.3L1008.2,384.4L1009.2,384.4L1010.2,384.5L1011.2,384.6L1012.2,384.6L1013.2,384.7L1014.2,384.8L1015.2,384.8L1016.2,384.9L1017.2,385.0L1018.2,385.0L1019.2,385.1L1020.2,385.2L1021.2,385.3L1022.2,385.3L1023.2,385.4L1024.2,385.5L1025.2,385.5L1026.2,385.6L1027.2,385.6L1028.2,385.7L1029.2,385.8L1030.2,385.8L1031.2,385.9L1032.2,385.9L1033.2,386.0L1034.2,386.0L1035.2,386.1L1036.2,386.2L1037.2,386.2L1038.2,386.3L1039.2,386.3L1040.2,386.4L1041.2,386.4L1042.2,386.5L1043.2,386.5L1044.2,386.6L1045.2,386.6L1046.2,386.7L1047.2,386.7L1048.2,386.8L1049.2,386.8L1050.2,386.8L1051.2,386.9L1052.2,386.9L1053.2,387.0L1054.2,387.0L1055.2,387.1L1056.2,387.1L1057.2,387.2L1058.2,387.2L1059.2,387.3L1060.2,387.3L1061.2,387.4L1062.2,387.4L1063.2,387.4L1064.2,387.5L1065.2,387.5L1066.2,387.6L1067.2,387.6L1068.2,387.7L1069.2,387.7L1070.2,387.8L1071.2,387.8L1072.2,387.8L1073.2,387.9L1074.2,387.9L1075.2,388.0L1076.2,388.0L1077.2,388.1L1078.2,388.1L1079.2,388.1L1080.2,388.2L1081.2,388.2L1082.2,388.3L1083.2,388.3L1084.2,388.3L1085.2,388.4L1086.2,388.4L1087.2,388.5L1088.2,388.5L1089.2,388.5L1090.2,388.6L1091.2,388.6L1092.2,388.7L1093.2,388.7L1094.2,388.7L1095.2,388.8L1096.2,388.8L1097.2,388.9L1098.2,388.9L1099.2,388.9L1100.2,389.0L1101.2,389.0L1102.2,389.0L1103.2,389.1L1104.2,389.1L1105.2,389.1L1106.2,389.2L1107.2,389.2L1108.2,389.2L1109.2,389.3L1109.8,389.3L1109.8,391.4L766.2,391.4Z" fill="#e5f1f9"/>
<rect x="766.7" y="62.5" width="342.8" height="27.0" fill="#d9d9d9" stroke="#333333" stroke-width="1.1"/>
<text class="strip" x="938.3" y="81" text-anchor="middle" textLength="118" lengthAdjust="spacingAndGlyphs">Impfquote: 95 Prozent</text>
<line x1="766.2" x2="1109.8" y1="405.9" y2="405.9" stroke="#d7d7d7" stroke-width="1.4"/>
<line x1="767.1" x2="767.1" y1="405.9" y2="410.5" stroke="#d7d7d7" stroke-width="1.2"/>
<text class="xt" text-anchor="end" transform="translate(774.1,420.8) rotate(-45)">Jul-21</text>
<line x1="806.0" x2="806.0" y1="405.9" y2="410.5" stroke="#d7d7d7" stroke-width="1.2"/>
<text class="xt" text-anchor="end" transform="translate(813.0,420.8) rotate(-45)">Aug-21</text>
<line x1="845.0" x2="845.0" y1="405.9" y2="410.5" stroke="#d7d7d7" stroke-width="1.2"/>
<text class="xt" text-anchor="end" transform="translate(852.0,420.8) rotate(-45)">Sep-21</text>
<line x1="882.7" x2="882.7" y1="405.9" y2="410.5" stroke="#d7d7d7" stroke-width="1.2"/>
<text class="xt" text-anchor="end" transform="translate(889.7,420.8) rotate(-45)">Okt-21</text>
<line x1="921.6" x2="921.6" y1="405.9" y2="410.5" stroke="#d7d7d7" stroke-width="1.2"/>
<text class="xt" text-anchor="end" transform="translate(928.6,420.8) rotate(-45)">Nov-21</text>
<line x1="959.3" x2="959.3" y1="405.9" y2="410.5" stroke="#d7d7d7" stroke-width="1.2"/>
<text class="xt" text-anchor="end" transform="translate(966.3,420.8) rotate(-45)">Dez-21</text>
<line x1="998.2" x2="998.2" y1="405.9" y2="410.5" stroke="#d7d7d7" stroke-width="1.2"/>
<text class="xt" text-anchor="end" transform="translate(1005.2,420.8) rotate(-45)">Jan-22</text>
<line x1="1037.2" x2="1037.2" y1="405.9" y2="410.5" stroke="#d7d7d7" stroke-width="1.2"/>
<text class="xt" text-anchor="end" transform="translate(1044.2,420.8) rotate(-45)">Feb-22</text>
<line x1="1072.3" x2="1072.3" y1="405.9" y2="410.5" stroke="#d7d7d7" stroke-width="1.2"/>
<text class="xt" text-anchor="end" transform="translate(1079.3,420.8) rotate(-45)">Mrz-22</text>
<line x1="58.8" x2="58.8" y1="89.5" y2="406.6" stroke="#d7d7d7" stroke-width="1.6"/>
<line x1="54.1" x2="58.7" y1="188.4" y2="188.4" stroke="#d7d7d7" stroke-width="1.2"/>
<text class="yt" x="49.6" y="193.1" text-anchor="end" textLength="18" lengthAdjust="spacingAndGlyphs">100</text>
<line x1="54.1" x2="58.7" y1="289.9" y2="289.9" stroke="#d7d7d7" stroke-width="1.2"/>
<text class="yt" x="49.6" y="294.6" text-anchor="end" textLength="12" lengthAdjust="spacingAndGlyphs">50</text>
<line x1="54.1" x2="58.7" y1="391.3" y2="391.3" stroke="#d7d7d7" stroke-width="1.2"/>
<text class="yt" x="49.6" y="396.0" text-anchor="end" textLength="7" lengthAdjust="spacingAndGlyphs">0</text>
<text class="ytitle" text-anchor="middle" transform="translate(21.6,248.5) rotate(-90)" textLength="234" lengthAdjust="spacingAndGlyphs">7-Tage Inzidenz (Fälle je 100.000)</text>
<g class="leg">
<text x="321.5" y="506" textLength="88" lengthAdjust="spacingAndGlyphs">Altersgruppe</text>
<rect x="419.3" y="491.3" width="25.7" height="16.3" fill="#0071bc"/>
<text x="455.0" y="506" textLength="56.0" lengthAdjust="spacingAndGlyphs">Unter 12</text>
<rect x="522.0" y="491.3" width="25.7" height="16.3" fill="#4a9ad1"/>
<text x="557.5" y="506" textLength="56.3" lengthAdjust="spacingAndGlyphs">12 bis 17</text>
<rect x="624.3" y="491.3" width="25.7" height="16.3" fill="#9ac6e4"/>
<text x="660.0" y="506" textLength="58.0" lengthAdjust="spacingAndGlyphs">18 bis 59</text>
<rect x="728.0" y="491.3" width="25.7" height="16.3" fill="#e5f1f9"/>
<text x="763.8" y="506" textLength="83.7" lengthAdjust="spacingAndGlyphs">60 und älter</text>
</g>
</svg>
</body>
</html>
